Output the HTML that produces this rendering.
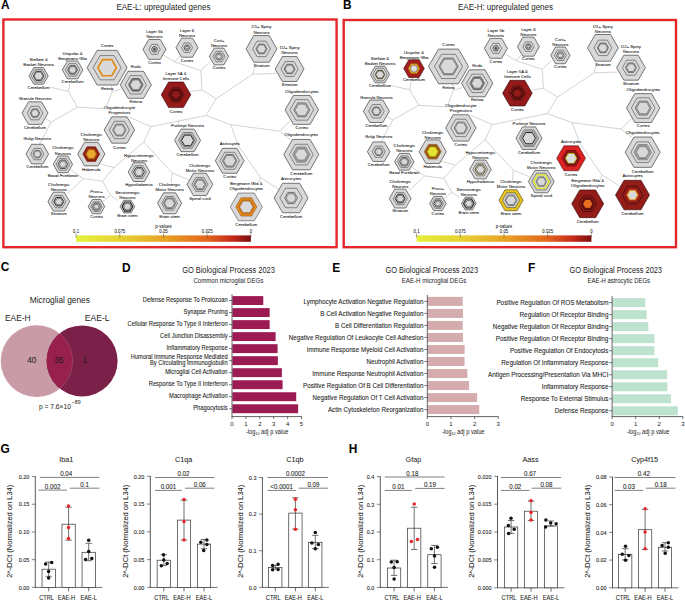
<!DOCTYPE html>
<html><head><meta charset="utf-8"><style>html,body{margin:0;padding:0;background:#fff;}svg{display:block;font-family:"Liberation Sans",sans-serif;}</style></head>
<body>
<svg width="685" height="601" viewBox="0 0 685 601" font-family="Liberation Sans, sans-serif">
<defs><linearGradient id="cbg" x1="0" x2="1" y1="0" y2="0">
<stop offset="0" stop-color="#e4f03a"/><stop offset="0.25" stop-color="#e6d232"/><stop offset="0.5" stop-color="#e8a424"/>
<stop offset="0.75" stop-color="#e2661e"/><stop offset="0.9" stop-color="#c4281a"/><stop offset="1" stop-color="#7a0e10"/></linearGradient></defs>
<rect width="685" height="601" fill="#fff"/>
<text x="0.90" y="8.80" font-size="11.9" text-anchor="start" font-weight="bold" fill="#000">A</text>
<text x="343.00" y="8.90" font-size="11.9" text-anchor="start" font-weight="bold" fill="#000">B</text>
<text x="0.80" y="271.30" font-size="11.9" text-anchor="start" font-weight="bold" fill="#000">C</text>
<text x="122.00" y="271.70" font-size="11.9" text-anchor="start" font-weight="bold" fill="#000">D</text>
<text x="332.30" y="271.70" font-size="11.9" text-anchor="start" font-weight="bold" fill="#000">E</text>
<text x="528.00" y="271.70" font-size="11.9" text-anchor="start" font-weight="bold" fill="#000">F</text>
<text x="0.60" y="452.70" font-size="11.9" text-anchor="start" font-weight="bold" fill="#000">G</text>
<text x="348.80" y="452.70" font-size="11.9" text-anchor="start" font-weight="bold" fill="#000">H</text>
<text x="163.40" y="10.20" font-size="8.4" text-anchor="middle" fill="#222" textLength="94.00" lengthAdjust="spacingAndGlyphs">EAE-L: upregulated genes</text>
<text x="505.50" y="10.20" font-size="8.4" text-anchor="middle" fill="#222" textLength="95.00" lengthAdjust="spacingAndGlyphs">EAE-H: upregulated genes</text>
<rect x="3.4" y="19.5" width="333.2" height="227.7" fill="none" stroke="#e5262a" stroke-width="2.4"/>
<rect x="343.7" y="20" width="332.3" height="227.2" fill="none" stroke="#e5262a" stroke-width="2.4"/>
<g stroke="#c4c4c4" stroke-width="0.75" fill="none">
<line x1="50.00" y1="87.20" x2="68.40" y2="91.40"/>
<line x1="69.70" y1="83.60" x2="68.40" y2="91.40"/>
<line x1="68.40" y1="91.40" x2="77.40" y2="107.10"/>
<line x1="77.40" y1="107.10" x2="51.30" y2="122.00"/>
<line x1="51.30" y1="122.00" x2="45.90" y2="118.60"/>
<line x1="51.30" y1="122.00" x2="39.30" y2="144.60"/>
<line x1="77.40" y1="107.10" x2="104.00" y2="108.60"/>
<line x1="112.10" y1="91.80" x2="111.00" y2="85.60"/>
<line x1="112.10" y1="91.80" x2="120.80" y2="89.20"/>
<line x1="112.10" y1="91.80" x2="106.50" y2="106.00"/>
<line x1="128.80" y1="116.90" x2="150.90" y2="126.60"/>
<line x1="150.90" y1="126.60" x2="206.00" y2="115.50"/>
<line x1="178.00" y1="120.20" x2="179.00" y2="123.00"/>
<line x1="150.90" y1="126.60" x2="143.70" y2="142.00"/>
<line x1="143.70" y1="142.00" x2="114.00" y2="167.60"/>
<line x1="114.00" y1="167.60" x2="100.00" y2="163.90"/>
<line x1="114.00" y1="167.60" x2="102.50" y2="181.20"/>
<line x1="102.50" y1="181.20" x2="83.50" y2="178.60"/>
<line x1="83.50" y1="178.60" x2="70.70" y2="169.70"/>
<line x1="83.50" y1="178.60" x2="67.20" y2="193.70"/>
<line x1="102.50" y1="181.20" x2="110.60" y2="195.30"/>
<line x1="110.60" y1="195.30" x2="102.90" y2="201.40"/>
<line x1="110.60" y1="195.30" x2="118.00" y2="200.50"/>
<line x1="143.70" y1="142.00" x2="172.00" y2="172.80"/>
<line x1="172.00" y1="172.80" x2="171.10" y2="183.00"/>
<line x1="172.00" y1="172.80" x2="188.60" y2="179.80"/>
<line x1="206.00" y1="115.50" x2="216.20" y2="98.70"/>
<line x1="216.20" y1="98.70" x2="202.00" y2="89.90"/>
<line x1="202.00" y1="89.90" x2="190.60" y2="91.50"/>
<line x1="202.00" y1="89.90" x2="200.80" y2="70.50"/>
<line x1="200.80" y1="70.50" x2="209.60" y2="62.20"/>
<line x1="200.80" y1="70.50" x2="174.60" y2="61.90"/>
<line x1="174.60" y1="61.90" x2="163.30" y2="54.90"/>
<line x1="174.60" y1="61.90" x2="180.00" y2="56.00"/>
<line x1="216.20" y1="98.70" x2="252.70" y2="74.20"/>
<line x1="252.70" y1="74.20" x2="254.90" y2="66.60"/>
<line x1="252.70" y1="74.20" x2="276.00" y2="73.40"/>
<line x1="206.00" y1="115.50" x2="230.70" y2="124.60"/>
<line x1="230.70" y1="124.60" x2="279.60" y2="131.20"/>
<line x1="279.60" y1="131.20" x2="290.00" y2="121.00"/>
<line x1="279.60" y1="131.20" x2="290.80" y2="140.00"/>
<line x1="230.70" y1="124.60" x2="238.70" y2="146.30"/>
<line x1="238.70" y1="146.30" x2="260.60" y2="177.70"/>
<line x1="260.60" y1="177.70" x2="258.40" y2="182.80"/>
<line x1="260.60" y1="177.70" x2="278.80" y2="189.30"/>
</g>
<polygon points="48.20,75.90 43.40,84.21 33.80,84.21 29.00,75.90 33.80,67.59 43.40,67.59" fill="#d9d9d9" stroke="#333" stroke-width="0.65"/>
<polygon points="45.90,75.90 42.25,82.22 34.95,82.22 31.30,75.90 34.95,69.58 42.25,69.58" fill="none" stroke="#383838" stroke-width="0.55"/>
<polygon points="43.88,75.90 41.24,80.47 35.96,80.47 33.32,75.90 35.96,71.33 41.24,71.33" fill="none" stroke="#333" stroke-width="0.9"/>
<polygon points="42.92,75.90 40.76,79.64 36.44,79.64 34.28,75.90 36.44,72.16 40.76,72.16" fill="none" stroke="#383838" stroke-width="0.55"/>
<text transform="translate(38.60,60.85) scale(1.000,1)" font-size="4.3" text-anchor="middle" fill="#1a1a1a" stroke="#1a1a1a" stroke-width="0.07">Stellate &</text>
<text transform="translate(38.60,65.90) scale(1.000,1)" font-size="4.3" text-anchor="middle" fill="#1a1a1a" stroke="#1a1a1a" stroke-width="0.07">Basket Neurons</text>
<text transform="translate(38.60,88.60) scale(1.000,1)" font-size="4.3" text-anchor="middle" fill="#1a1a1a" stroke="#1a1a1a" stroke-width="0.07">Cerebellum</text>
<polygon points="82.90,69.90 77.75,78.82 67.45,78.82 62.30,69.90 67.45,60.98 77.75,60.98" fill="#d9d9d9" stroke="#333" stroke-width="0.65"/>
<polygon points="79.81,69.90 76.20,76.14 68.99,76.14 65.39,69.90 68.99,63.66 76.20,63.66" fill="none" stroke="#383838" stroke-width="0.55"/>
<polygon points="77.44,69.90 75.02,74.09 70.18,74.09 67.76,69.90 70.18,65.71 75.02,65.71" fill="none" stroke="#333" stroke-width="0.9"/>
<polygon points="76.31,69.90 74.45,73.11 70.75,73.11 68.89,69.90 70.75,66.69 74.45,66.69" fill="none" stroke="#383838" stroke-width="0.55"/>
<text transform="translate(72.60,54.85) scale(1.000,1)" font-size="4.3" text-anchor="middle" fill="#1a1a1a" stroke="#1a1a1a" stroke-width="0.07">Unipolar &</text>
<text transform="translate(72.60,59.90) scale(1.000,1)" font-size="4.3" text-anchor="middle" fill="#1a1a1a" stroke="#1a1a1a" stroke-width="0.07">Bergmann Glia</text>
<text transform="translate(72.60,82.90) scale(1.000,1)" font-size="4.3" text-anchor="middle" fill="#1a1a1a" stroke="#1a1a1a" stroke-width="0.07">Cerebellum</text>
<polygon points="127.10,67.70 117.10,85.02 97.10,85.02 87.10,67.70 97.10,50.38 117.10,50.38" fill="#d9d9d9" stroke="#333" stroke-width="0.65"/>
<polygon points="121.10,67.70 114.10,79.82 100.10,79.82 93.10,67.70 100.10,55.58 114.10,55.58" fill="none" stroke="#383838" stroke-width="0.55"/>
<polygon points="116.40,67.70 111.75,75.75 102.45,75.75 97.80,67.70 102.45,59.65 111.75,59.65" fill="#d9d9d9" stroke="#e08c14" stroke-width="1.7"/>
<text transform="translate(107.10,47.30) scale(1.000,1)" font-size="4.3" text-anchor="middle" fill="#1a1a1a" stroke="#1a1a1a" stroke-width="0.07">Cones</text>
<text transform="translate(107.10,90.40) scale(1.000,1)" font-size="4.3" text-anchor="middle" fill="#1a1a1a" stroke="#1a1a1a" stroke-width="0.07">Retina</text>
<polygon points="151.40,84.80 143.60,98.31 128.00,98.31 120.20,84.80 128.00,71.29 143.60,71.29" fill="#d9d9d9" stroke="#333" stroke-width="0.65"/>
<polygon points="146.41,84.80 141.10,93.99 130.50,93.99 125.19,84.80 130.50,75.61 141.10,75.61" fill="none" stroke="#383838" stroke-width="0.55"/>
<polygon points="143.13,84.80 139.47,91.15 132.13,91.15 128.47,84.80 132.13,78.45 139.47,78.45" fill="none" stroke="#444" stroke-width="0.7"/>
<polygon points="142.35,84.80 139.08,90.47 132.52,90.47 129.25,84.80 132.52,79.13 139.08,79.13" fill="none" stroke="#444" stroke-width="0.7"/>
<polygon points="141.42,84.80 138.61,89.66 132.99,89.66 130.18,84.80 132.99,79.94 138.61,79.94" fill="none" stroke="#383838" stroke-width="0.55"/>
<text transform="translate(135.80,68.20) scale(1.000,1)" font-size="4.3" text-anchor="middle" fill="#1a1a1a" stroke="#1a1a1a" stroke-width="0.07">Rods</text>
<text transform="translate(135.80,103.20) scale(1.000,1)" font-size="4.3" text-anchor="middle" fill="#1a1a1a" stroke="#1a1a1a" stroke-width="0.07">Retina</text>
<polygon points="166.00,49.40 160.25,59.36 148.75,59.36 143.00,49.40 148.75,39.44 160.25,39.44" fill="#d9d9d9" stroke="#333" stroke-width="0.65"/>
<polygon points="160.25,49.40 157.38,54.38 151.62,54.38 148.75,49.40 151.62,44.42 157.38,44.42" fill="none" stroke="#383838" stroke-width="0.55"/>
<polygon points="157.49,49.40 156.00,51.99 153.00,51.99 151.51,49.40 153.00,46.81 156.00,46.81" fill="none" stroke="#333" stroke-width="0.8"/>
<polygon points="155.88,49.40 155.19,50.60 153.81,50.60 153.12,49.40 153.81,48.20 155.19,48.20" fill="#555" stroke="#333" stroke-width="0.5"/>
<text transform="translate(154.50,32.65) scale(1.000,1)" font-size="4.3" text-anchor="middle" fill="#1a1a1a" stroke="#1a1a1a" stroke-width="0.07">Layer 5b</text>
<text transform="translate(154.50,37.70) scale(1.000,1)" font-size="4.3" text-anchor="middle" fill="#1a1a1a" stroke="#1a1a1a" stroke-width="0.07">Neurons</text>
<text transform="translate(154.50,64.00) scale(1.000,1)" font-size="4.3" text-anchor="middle" fill="#1a1a1a" stroke="#1a1a1a" stroke-width="0.07">Cortex</text>
<polygon points="198.00,47.70 192.50,57.23 181.50,57.23 176.00,47.70 181.50,38.17 192.50,38.17" fill="#d9d9d9" stroke="#333" stroke-width="0.65"/>
<polygon points="192.50,47.70 189.75,52.46 184.25,52.46 181.50,47.70 184.25,42.94 189.75,42.94" fill="none" stroke="#383838" stroke-width="0.55"/>
<polygon points="189.97,47.70 188.49,50.27 185.51,50.27 184.03,47.70 185.51,45.13 188.49,45.13" fill="none" stroke="#333" stroke-width="0.8"/>
<polygon points="188.54,47.70 187.77,49.03 186.23,49.03 185.46,47.70 186.23,46.37 187.77,46.37" fill="none" stroke="#333" stroke-width="0.6"/>
<text transform="translate(187.00,31.95) scale(1.000,1)" font-size="4.3" text-anchor="middle" fill="#1a1a1a" stroke="#1a1a1a" stroke-width="0.07">Layer 6</text>
<text transform="translate(187.00,37.00) scale(1.000,1)" font-size="4.3" text-anchor="middle" fill="#1a1a1a" stroke="#1a1a1a" stroke-width="0.07">Neurons</text>
<text transform="translate(187.00,61.60) scale(1.000,1)" font-size="4.3" text-anchor="middle" fill="#1a1a1a" stroke="#1a1a1a" stroke-width="0.07">Cortex</text>
<polygon points="228.65,56.50 223.82,64.86 214.18,64.86 209.35,56.50 214.17,48.14 223.82,48.14" fill="#d9d9d9" stroke="#333" stroke-width="0.65"/>
<polygon points="224.98,56.50 221.99,61.68 216.01,61.68 213.02,56.50 216.01,51.32 221.99,51.32" fill="none" stroke="#383838" stroke-width="0.55"/>
<polygon points="222.86,56.50 220.93,59.84 217.07,59.84 215.14,56.50 217.07,53.16 220.93,53.16" fill="none" stroke="#333" stroke-width="0.7"/>
<polygon points="221.41,56.50 220.21,58.59 217.79,58.59 216.59,56.50 217.79,54.41 220.21,54.41" fill="none" stroke="#444" stroke-width="0.6"/>
<text transform="translate(219.00,41.95) scale(1.000,1)" font-size="4.3" text-anchor="middle" fill="#1a1a1a" stroke="#1a1a1a" stroke-width="0.07">Cort+</text>
<text transform="translate(219.00,47.00) scale(1.000,1)" font-size="4.3" text-anchor="middle" fill="#1a1a1a" stroke="#1a1a1a" stroke-width="0.07">Neurons</text>
<text transform="translate(219.00,68.90) scale(1.000,1)" font-size="4.3" text-anchor="middle" fill="#1a1a1a" stroke="#1a1a1a" stroke-width="0.07">Cortex</text>
<polygon points="190.80,94.80 183.40,107.62 168.60,107.62 161.20,94.80 168.60,81.98 183.40,81.98" fill="#951b1b" stroke="#2a0606" stroke-width="0.6"/>
<polygon points="183.99,94.80 180.00,101.72 172.00,101.72 168.01,94.80 172.00,87.88 180.00,87.88" fill="none" stroke="#2a0606" stroke-width="0.6"/>
<polygon points="181.92,94.80 178.96,99.93 173.04,99.93 170.08,94.80 173.04,89.67 178.96,89.67" fill="none" stroke="#2a0606" stroke-width="1.0"/>
<polygon points="180.44,94.80 178.22,98.65 173.78,98.65 171.56,94.80 173.78,90.95 178.22,90.95" fill="none" stroke="#2a0606" stroke-width="0.6"/>
<text transform="translate(176.00,74.55) scale(1.000,1)" font-size="4.3" text-anchor="middle" fill="#1a1a1a" stroke="#1a1a1a" stroke-width="0.07">Layer 5A &</text>
<text transform="translate(176.00,79.60) scale(1.000,1)" font-size="4.3" text-anchor="middle" fill="#1a1a1a" stroke="#1a1a1a" stroke-width="0.07">Immune Cells</text>
<text transform="translate(176.00,112.70) scale(1.000,1)" font-size="4.3" text-anchor="middle" fill="#1a1a1a" stroke="#1a1a1a" stroke-width="0.07">Cortex</text>
<polygon points="276.90,48.90 269.20,62.24 253.80,62.24 246.10,48.90 253.80,35.56 269.20,35.56" fill="#d9d9d9" stroke="#333" stroke-width="0.65"/>
<polygon points="270.43,48.90 265.97,56.64 257.03,56.64 252.57,48.90 257.03,41.16 265.97,41.16" fill="none" stroke="#383838" stroke-width="0.55"/>
<polygon points="267.04,48.90 264.27,53.70 258.73,53.70 255.96,48.90 258.73,44.10 264.27,44.10" fill="none" stroke="#444" stroke-width="0.7"/>
<polygon points="266.12,48.90 263.81,52.90 259.19,52.90 256.88,48.90 259.19,44.90 263.81,44.90" fill="none" stroke="#444" stroke-width="0.6"/>
<text transform="translate(261.50,28.45) scale(1.000,1)" font-size="4.3" text-anchor="middle" fill="#1a1a1a" stroke="#1a1a1a" stroke-width="0.07">D1+ Spiny</text>
<text transform="translate(261.50,33.50) scale(1.000,1)" font-size="4.3" text-anchor="middle" fill="#1a1a1a" stroke="#1a1a1a" stroke-width="0.07">Neurons</text>
<text transform="translate(261.50,67.20) scale(1.000,1)" font-size="4.3" text-anchor="middle" fill="#1a1a1a" stroke="#1a1a1a" stroke-width="0.07">Striatum</text>
<polygon points="304.00,69.00 296.80,81.47 282.40,81.47 275.20,69.00 282.40,56.53 296.80,56.53" fill="#d9d9d9" stroke="#333" stroke-width="0.65"/>
<polygon points="298.24,69.00 293.92,76.48 285.28,76.48 280.96,69.00 285.28,61.52 293.92,61.52" fill="none" stroke="#383838" stroke-width="0.55"/>
<polygon points="295.07,69.00 292.34,73.74 286.86,73.74 284.13,69.00 286.86,64.26 292.34,64.26" fill="none" stroke="#444" stroke-width="0.7"/>
<polygon points="294.06,69.00 291.83,72.87 287.37,72.87 285.14,69.00 287.37,65.13 291.83,65.13" fill="none" stroke="#444" stroke-width="0.6"/>
<text transform="translate(289.60,49.25) scale(1.000,1)" font-size="4.3" text-anchor="middle" fill="#1a1a1a" stroke="#1a1a1a" stroke-width="0.07">D2+ Spiny</text>
<text transform="translate(289.60,54.30) scale(1.000,1)" font-size="4.3" text-anchor="middle" fill="#1a1a1a" stroke="#1a1a1a" stroke-width="0.07">Neurons</text>
<text transform="translate(289.60,86.30) scale(1.000,1)" font-size="4.3" text-anchor="middle" fill="#1a1a1a" stroke="#1a1a1a" stroke-width="0.07">Striatum</text>
<polygon points="318.50,109.90 310.15,124.36 293.45,124.36 285.10,109.90 293.45,95.44 310.15,95.44" fill="#d9d9d9" stroke="#333" stroke-width="0.65"/>
<polygon points="313.66,109.90 307.73,120.17 295.87,120.17 289.94,109.90 295.87,99.63 307.73,99.63" fill="none" stroke="#383838" stroke-width="0.55"/>
<polygon points="309.82,109.90 305.81,116.84 297.79,116.84 293.78,109.90 297.79,102.96 305.81,102.96" fill="none" stroke="#444" stroke-width="0.7"/>
<polygon points="308.48,109.90 305.14,115.69 298.46,115.69 295.12,109.90 298.46,104.11 305.14,104.11" fill="none" stroke="#444" stroke-width="0.6"/>
<text transform="translate(301.80,92.70) scale(1.000,1)" font-size="4.3" text-anchor="middle" fill="#1a1a1a" stroke="#1a1a1a" stroke-width="0.07">Oligodendrocytes</text>
<text transform="translate(301.80,129.10) scale(1.000,1)" font-size="4.3" text-anchor="middle" fill="#1a1a1a" stroke="#1a1a1a" stroke-width="0.07">Cortex</text>
<polygon points="318.80,154.60 310.05,169.76 292.55,169.76 283.80,154.60 292.55,139.44 310.05,139.44" fill="#d9d9d9" stroke="#333" stroke-width="0.65"/>
<polygon points="313.20,154.60 307.25,164.91 295.35,164.91 289.40,154.60 295.35,144.29 307.25,144.29" fill="none" stroke="#383838" stroke-width="0.55"/>
<polygon points="310.05,154.60 305.68,162.18 296.93,162.18 292.55,154.60 296.93,147.02 305.68,147.02" fill="none" stroke="#444" stroke-width="0.6"/>
<polygon points="308.65,154.60 304.98,160.97 297.62,160.97 293.95,154.60 297.62,148.23 304.98,148.23" fill="none" stroke="#444" stroke-width="0.6"/>
<polygon points="307.60,154.60 304.45,160.06 298.15,160.06 295.00,154.60 298.15,149.14 304.45,149.14" fill="none" stroke="#444" stroke-width="0.5"/>
<text transform="translate(301.30,136.00) scale(1.000,1)" font-size="4.3" text-anchor="middle" fill="#1a1a1a" stroke="#1a1a1a" stroke-width="0.07">Oligodendrocytes</text>
<text transform="translate(301.30,175.20) scale(1.000,1)" font-size="4.3" text-anchor="middle" fill="#1a1a1a" stroke="#1a1a1a" stroke-width="0.07">Cerebellum</text>
<polygon points="48.00,113.10 41.50,124.36 28.50,124.36 22.00,113.10 28.50,101.84 41.50,101.84" fill="#d9d9d9" stroke="#333" stroke-width="0.65"/>
<polygon points="42.80,113.10 38.90,119.85 31.10,119.85 27.20,113.10 31.10,106.35 38.90,106.35" fill="none" stroke="#383838" stroke-width="0.55"/>
<polygon points="39.81,113.10 37.41,117.27 32.59,117.27 30.19,113.10 32.59,108.93 37.41,108.93" fill="none" stroke="#444" stroke-width="0.7"/>
<polygon points="38.90,113.10 36.95,116.48 33.05,116.48 31.10,113.10 33.05,109.72 36.95,109.72" fill="none" stroke="#444" stroke-width="0.6"/>
<text transform="translate(35.00,100.30) scale(1.000,1)" font-size="4.3" text-anchor="middle" fill="#1a1a1a" stroke="#1a1a1a" stroke-width="0.07">Granule Neurons</text>
<text transform="translate(35.00,129.40) scale(1.000,1)" font-size="4.3" text-anchor="middle" fill="#1a1a1a" stroke="#1a1a1a" stroke-width="0.07">Cerebellum</text>
<polygon points="134.60,130.00 127.00,143.16 111.80,143.16 104.20,130.00 111.80,116.84 127.00,116.84" fill="#d9d9d9" stroke="#333" stroke-width="0.65"/>
<polygon points="129.43,130.00 124.42,138.69 114.38,138.69 109.37,130.00 114.38,121.31 124.42,121.31" fill="none" stroke="#383838" stroke-width="0.55"/>
<polygon points="126.24,130.00 122.82,135.92 115.98,135.92 112.56,130.00 115.98,124.08 122.82,124.08" fill="none" stroke="#444" stroke-width="0.6"/>
<polygon points="125.18,130.00 122.29,135.00 116.51,135.00 113.62,130.00 116.51,125.00 122.29,125.00" fill="none" stroke="#444" stroke-width="0.6"/>
<text transform="translate(119.40,109.25) scale(1.000,1)" font-size="4.3" text-anchor="middle" fill="#1a1a1a" stroke="#1a1a1a" stroke-width="0.07">Oligodendrocyte</text>
<text transform="translate(119.40,114.30) scale(1.000,1)" font-size="4.3" text-anchor="middle" fill="#1a1a1a" stroke="#1a1a1a" stroke-width="0.07">Progenitors</text>
<text transform="translate(119.40,148.60) scale(1.000,1)" font-size="4.3" text-anchor="middle" fill="#1a1a1a" stroke="#1a1a1a" stroke-width="0.07">Cortex</text>
<polygon points="200.60,140.40 194.10,151.66 181.10,151.66 174.60,140.40 181.10,129.14 194.10,129.14" fill="#d9d9d9" stroke="#333" stroke-width="0.65"/>
<polygon points="196.70,140.40 192.15,148.28 183.05,148.28 178.50,140.40 183.05,132.52 192.15,132.52" fill="none" stroke="#383838" stroke-width="0.55"/>
<polygon points="195.01,140.40 191.31,146.82 183.90,146.82 180.19,140.40 183.89,133.98 191.31,133.98" fill="none" stroke="#444" stroke-width="0.6"/>
<polygon points="193.71,140.40 190.66,145.69 184.54,145.69 181.49,140.40 184.54,135.11 190.66,135.11" fill="none" stroke="#222" stroke-width="1.0"/>
<text transform="translate(187.60,126.80) scale(1.000,1)" font-size="4.3" text-anchor="middle" fill="#1a1a1a" stroke="#1a1a1a" stroke-width="0.07">Purkinje Neurons</text>
<text transform="translate(187.60,156.40) scale(1.000,1)" font-size="4.3" text-anchor="middle" fill="#1a1a1a" stroke="#1a1a1a" stroke-width="0.07">Cerebellum</text>
<polygon points="48.60,154.10 42.95,163.89 31.65,163.89 26.00,154.10 31.65,144.31 42.95,144.31" fill="#d9d9d9" stroke="#333" stroke-width="0.65"/>
<polygon points="43.85,154.10 40.58,159.78 34.02,159.78 30.75,154.10 34.02,148.42 40.58,148.42" fill="none" stroke="#383838" stroke-width="0.55"/>
<polygon points="41.59,154.10 39.45,157.82 35.15,157.82 33.01,154.10 35.15,150.38 39.45,150.38" fill="none" stroke="#444" stroke-width="0.7"/>
<polygon points="40.69,154.10 38.99,157.04 35.60,157.04 33.91,154.10 35.60,151.16 38.99,151.16" fill="none" stroke="#444" stroke-width="0.5"/>
<text transform="translate(37.30,140.30) scale(1.000,1)" font-size="4.3" text-anchor="middle" fill="#1a1a1a" stroke="#1a1a1a" stroke-width="0.07">Golgi Neurons</text>
<text transform="translate(37.30,168.40) scale(1.000,1)" font-size="4.3" text-anchor="middle" fill="#1a1a1a" stroke="#1a1a1a" stroke-width="0.07">Cerebellum</text>
<polygon points="104.90,154.10 98.10,165.88 84.50,165.88 77.70,154.10 84.50,142.32 98.10,142.32" fill="#d9d9d9" stroke="#333" stroke-width="0.65"/>
<polygon points="99.73,154.10 95.52,161.40 87.08,161.40 82.87,154.10 87.08,146.80 95.52,146.80" fill="#c41c17" stroke="#4a0c06" stroke-width="0.5"/>
<polygon points="98.64,154.10 94.97,160.46 87.63,160.46 83.96,154.10 87.63,147.74 94.97,147.74" fill="#a82a14" stroke="#5a1a08" stroke-width="0.5"/>
<polygon points="97.56,154.10 94.43,159.52 88.17,159.52 85.04,154.10 88.17,148.68 94.43,148.68" fill="#c85a1c" stroke="#6a2a08" stroke-width="0.5"/>
<polygon points="96.47,154.10 93.88,158.58 88.72,158.58 86.13,154.10 88.72,149.62 93.88,149.62" fill="#e0962a" stroke="#7a3a10" stroke-width="0.4"/>
<polygon points="95.65,154.10 93.48,157.87 89.12,157.87 86.95,154.10 89.12,150.33 93.48,150.33" fill="#e8aa2c" stroke="none" stroke-width="0"/>
<text transform="translate(91.30,135.75) scale(1.000,1)" font-size="4.3" text-anchor="middle" fill="#1a1a1a" stroke="#1a1a1a" stroke-width="0.07">Cholinergic</text>
<text transform="translate(91.30,140.80) scale(1.000,1)" font-size="4.3" text-anchor="middle" fill="#1a1a1a" stroke="#1a1a1a" stroke-width="0.07">Neurons</text>
<text transform="translate(91.30,171.10) scale(1.000,1)" font-size="4.3" text-anchor="middle" fill="#1a1a1a" stroke="#1a1a1a" stroke-width="0.07">Habenula</text>
<polygon points="72.60,164.30 67.75,172.70 58.05,172.70 53.20,164.30 58.05,155.90 67.75,155.90" fill="#d9d9d9" stroke="#333" stroke-width="0.65"/>
<polygon points="69.69,164.30 66.30,170.18 59.51,170.18 56.11,164.30 59.50,158.42 66.30,158.42" fill="none" stroke="#383838" stroke-width="0.55"/>
<polygon points="67.75,164.30 65.33,168.50 60.48,168.50 58.05,164.30 60.47,160.10 65.33,160.10" fill="none" stroke="#333" stroke-width="0.8"/>
<polygon points="66.39,164.30 64.65,167.32 61.15,167.32 59.41,164.30 61.15,161.28 64.65,161.28" fill="none" stroke="#383838" stroke-width="0.55"/>
<text transform="translate(62.90,149.45) scale(1.000,1)" font-size="4.3" text-anchor="middle" fill="#1a1a1a" stroke="#1a1a1a" stroke-width="0.07">Cholinergic</text>
<text transform="translate(62.90,154.50) scale(1.000,1)" font-size="4.3" text-anchor="middle" fill="#1a1a1a" stroke="#1a1a1a" stroke-width="0.07">Neurons</text>
<text transform="translate(62.90,176.80) scale(1.000,1)" font-size="4.3" text-anchor="middle" fill="#1a1a1a" stroke="#1a1a1a" stroke-width="0.07">Basal Forebrain</text>
<polygon points="149.85,172.10 144.43,181.50 133.57,181.50 128.15,172.10 133.57,162.70 144.43,162.70" fill="#d9d9d9" stroke="#333" stroke-width="0.65"/>
<polygon points="146.38,172.10 142.69,178.49 135.31,178.49 131.62,172.10 135.31,165.71 142.69,165.71" fill="none" stroke="#383838" stroke-width="0.55"/>
<polygon points="144.43,172.10 141.71,176.80 136.29,176.80 133.57,172.10 136.29,167.40 141.71,167.40" fill="none" stroke="#333" stroke-width="0.9"/>
<polygon points="143.12,172.10 141.06,175.67 136.94,175.67 134.88,172.10 136.94,168.53 141.06,168.53" fill="none" stroke="#383838" stroke-width="0.55"/>
<text transform="translate(139.00,156.65) scale(1.000,1)" font-size="4.3" text-anchor="middle" fill="#1a1a1a" stroke="#1a1a1a" stroke-width="0.07">Hypocretinergic</text>
<text transform="translate(139.00,161.70) scale(1.000,1)" font-size="4.3" text-anchor="middle" fill="#1a1a1a" stroke="#1a1a1a" stroke-width="0.07">Neurons</text>
<text transform="translate(139.00,185.80) scale(1.000,1)" font-size="4.3" text-anchor="middle" fill="#1a1a1a" stroke="#1a1a1a" stroke-width="0.07">Hypothalamus</text>
<polygon points="244.10,160.80 236.90,173.27 222.50,173.27 215.30,160.80 222.50,148.33 236.90,148.33" fill="#d9d9d9" stroke="#333" stroke-width="0.65"/>
<polygon points="239.49,160.80 234.60,169.28 224.80,169.28 219.91,160.80 224.80,152.32 234.60,152.32" fill="none" stroke="#383838" stroke-width="0.55"/>
<polygon points="236.90,160.80 233.30,167.04 226.10,167.04 222.50,160.80 226.10,154.56 233.30,154.56" fill="none" stroke="#444" stroke-width="0.7"/>
<polygon points="235.75,160.80 232.72,166.04 226.68,166.04 223.65,160.80 226.68,155.56 232.72,155.56" fill="none" stroke="#444" stroke-width="0.6"/>
<text transform="translate(229.70,145.20) scale(1.000,1)" font-size="4.3" text-anchor="middle" fill="#1a1a1a" stroke="#1a1a1a" stroke-width="0.07">Astrocytes</text>
<text transform="translate(229.70,178.30) scale(1.000,1)" font-size="4.3" text-anchor="middle" fill="#1a1a1a" stroke="#1a1a1a" stroke-width="0.07">Cortex</text>
<polygon points="212.80,184.40 206.35,195.57 193.45,195.57 187.00,184.40 193.45,173.23 206.35,173.23" fill="#d9d9d9" stroke="#333" stroke-width="0.65"/>
<polygon points="207.90,184.40 203.90,191.33 195.90,191.33 191.90,184.40 195.90,177.47 203.90,177.47" fill="none" stroke="#383838" stroke-width="0.55"/>
<polygon points="205.96,184.40 202.93,189.65 196.87,189.65 193.84,184.40 196.87,179.15 202.93,179.15" fill="none" stroke="#444" stroke-width="0.7"/>
<polygon points="204.80,184.40 202.35,188.65 197.45,188.65 195.00,184.40 197.45,180.15 202.35,180.15" fill="none" stroke="#444" stroke-width="0.6"/>
<text transform="translate(199.90,166.75) scale(1.000,1)" font-size="4.3" text-anchor="middle" fill="#1a1a1a" stroke="#1a1a1a" stroke-width="0.07">Cholinergic</text>
<text transform="translate(199.90,171.80) scale(1.000,1)" font-size="4.3" text-anchor="middle" fill="#1a1a1a" stroke="#1a1a1a" stroke-width="0.07">Motor Neurons</text>
<text transform="translate(199.90,200.00) scale(1.000,1)" font-size="4.3" text-anchor="middle" fill="#1a1a1a" stroke="#1a1a1a" stroke-width="0.07">Spinal cord</text>
<polygon points="69.70,201.60 64.25,211.04 53.35,211.04 47.90,201.60 53.35,192.16 64.25,192.16" fill="#d9d9d9" stroke="#333" stroke-width="0.65"/>
<polygon points="65.88,201.60 62.34,207.74 55.26,207.74 51.71,201.60 55.26,195.46 62.34,195.46" fill="none" stroke="#383838" stroke-width="0.55"/>
<polygon points="63.70,201.60 61.25,205.85 56.35,205.85 53.89,201.60 56.35,197.35 61.25,197.35" fill="none" stroke="#222" stroke-width="1.0"/>
<polygon points="62.29,201.60 60.54,204.62 57.06,204.62 55.31,201.60 57.06,198.58 60.54,198.58" fill="none" stroke="#383838" stroke-width="0.55"/>
<text transform="translate(58.80,185.85) scale(1.000,1)" font-size="4.3" text-anchor="middle" fill="#1a1a1a" stroke="#1a1a1a" stroke-width="0.07">Cholinergic</text>
<text transform="translate(58.80,190.90) scale(1.000,1)" font-size="4.3" text-anchor="middle" fill="#1a1a1a" stroke="#1a1a1a" stroke-width="0.07">Neurons</text>
<text transform="translate(58.80,215.30) scale(1.000,1)" font-size="4.3" text-anchor="middle" fill="#1a1a1a" stroke="#1a1a1a" stroke-width="0.07">Striatum</text>
<polygon points="104.75,206.60 100.62,213.74 92.38,213.74 88.25,206.60 92.38,199.46 100.62,199.46" fill="#d9d9d9" stroke="#333" stroke-width="0.65"/>
<polygon points="102.11,206.60 99.31,211.46 93.70,211.46 90.89,206.60 93.69,201.74 99.31,201.74" fill="none" stroke="#383838" stroke-width="0.55"/>
<polygon points="100.46,206.60 98.48,210.03 94.52,210.03 92.54,206.60 94.52,203.17 98.48,203.17" fill="none" stroke="#333" stroke-width="0.9"/>
<polygon points="98.97,206.60 97.74,208.74 95.26,208.74 94.03,206.60 95.26,204.46 97.74,204.46" fill="none" stroke="#555" stroke-width="0.6"/>
<text transform="translate(96.50,193.25) scale(1.000,1)" font-size="4.3" text-anchor="middle" fill="#1a1a1a" stroke="#1a1a1a" stroke-width="0.07">Pnoc+</text>
<text transform="translate(96.50,198.30) scale(1.000,1)" font-size="4.3" text-anchor="middle" fill="#1a1a1a" stroke="#1a1a1a" stroke-width="0.07">Neurons</text>
<text transform="translate(96.50,217.90) scale(1.000,1)" font-size="4.3" text-anchor="middle" fill="#1a1a1a" stroke="#1a1a1a" stroke-width="0.07">Cortex</text>
<polygon points="134.70,206.60 131.05,212.92 123.75,212.92 120.10,206.60 123.75,200.28 131.05,200.28" fill="#d9d9d9" stroke="#333" stroke-width="0.65"/>
<polygon points="132.66,206.60 130.03,211.15 124.77,211.15 122.14,206.60 124.77,202.05 130.03,202.05" fill="none" stroke="#222" stroke-width="1.1"/>
<polygon points="131.05,206.60 129.22,209.76 125.58,209.76 123.75,206.60 125.58,203.44 129.22,203.44" fill="#d9d9d9" stroke="#333" stroke-width="0.6"/>
<text transform="translate(127.40,194.15) scale(1.000,1)" font-size="4.3" text-anchor="middle" fill="#1a1a1a" stroke="#1a1a1a" stroke-width="0.07">Serotonergic</text>
<text transform="translate(127.40,199.20) scale(1.000,1)" font-size="4.3" text-anchor="middle" fill="#1a1a1a" stroke="#1a1a1a" stroke-width="0.07">Neurons</text>
<text transform="translate(127.40,217.10) scale(1.000,1)" font-size="4.3" text-anchor="middle" fill="#1a1a1a" stroke="#1a1a1a" stroke-width="0.07">Brain stem</text>
<polygon points="181.70,203.30 175.65,213.78 163.55,213.78 157.50,203.30 163.55,192.82 175.65,192.82" fill="#d9d9d9" stroke="#333" stroke-width="0.65"/>
<polygon points="177.47,203.30 173.53,210.11 165.67,210.11 161.73,203.30 165.67,196.49 173.53,196.49" fill="none" stroke="#383838" stroke-width="0.55"/>
<polygon points="175.65,203.30 172.62,208.54 166.57,208.54 163.55,203.30 166.57,198.06 172.62,198.06" fill="none" stroke="#444" stroke-width="0.7"/>
<polygon points="174.68,203.30 172.14,207.70 167.06,207.70 164.52,203.30 167.06,198.90 172.14,198.90" fill="none" stroke="#444" stroke-width="0.6"/>
<text transform="translate(169.60,186.25) scale(1.000,1)" font-size="4.3" text-anchor="middle" fill="#1a1a1a" stroke="#1a1a1a" stroke-width="0.07">Cholinergic</text>
<text transform="translate(169.60,191.30) scale(1.000,1)" font-size="4.3" text-anchor="middle" fill="#1a1a1a" stroke="#1a1a1a" stroke-width="0.07">Motor Neurons</text>
<text transform="translate(169.60,218.30) scale(1.000,1)" font-size="4.3" text-anchor="middle" fill="#1a1a1a" stroke="#1a1a1a" stroke-width="0.07">Brain stem</text>
<polygon points="262.30,206.90 254.30,220.76 238.30,220.76 230.30,206.90 238.30,193.04 254.30,193.04" fill="#d9d9d9" stroke="#383838" stroke-width="0.55"/>
<polygon points="256.86,206.90 251.58,216.05 241.02,216.05 235.74,206.90 241.02,197.75 251.58,197.75" fill="#e8921c" stroke="#7a3a10" stroke-width="0.5"/>
<polygon points="254.30,206.90 250.30,213.83 242.30,213.83 238.30,206.90 242.30,199.97 250.30,199.97" fill="#e8921c" stroke="#a04010" stroke-width="0.5"/>
<polygon points="253.02,206.90 249.66,212.72 242.94,212.72 239.58,206.90 242.94,201.08 249.66,201.08" fill="#d9d9d9" stroke="#7a3a10" stroke-width="0.5"/>
<text transform="translate(246.30,185.15) scale(1.000,1)" font-size="4.3" text-anchor="middle" fill="#1a1a1a" stroke="#1a1a1a" stroke-width="0.07">Bergmann Glia &</text>
<text transform="translate(246.30,190.20) scale(1.000,1)" font-size="4.3" text-anchor="middle" fill="#1a1a1a" stroke="#1a1a1a" stroke-width="0.07">Oligodendrocytes</text>
<text transform="translate(246.30,226.10) scale(1.000,1)" font-size="4.3" text-anchor="middle" fill="#1a1a1a" stroke="#1a1a1a" stroke-width="0.07">Cerebellum</text>
<polygon points="308.10,198.00 299.60,212.72 282.60,212.72 274.10,198.00 282.60,183.28 299.60,183.28" fill="#d9d9d9" stroke="#333" stroke-width="0.65"/>
<polygon points="302.32,198.00 296.71,207.72 285.49,207.72 279.88,198.00 285.49,188.28 296.71,188.28" fill="none" stroke="#383838" stroke-width="0.55"/>
<polygon points="297.56,198.00 294.33,203.59 287.87,203.59 284.64,198.00 287.87,192.41 294.33,192.41" fill="none" stroke="#444" stroke-width="0.7"/>
<polygon points="296.03,198.00 293.56,202.27 288.64,202.27 286.17,198.00 288.64,193.73 293.56,193.73" fill="none" stroke="#444" stroke-width="0.6"/>
<text transform="translate(291.10,180.00) scale(1.000,1)" font-size="4.3" text-anchor="middle" fill="#1a1a1a" stroke="#1a1a1a" stroke-width="0.07">Astrocytes</text>
<text transform="translate(291.10,218.30) scale(1.000,1)" font-size="4.3" text-anchor="middle" fill="#1a1a1a" stroke="#1a1a1a" stroke-width="0.07">Cerebellum</text>
<rect x="76.10" y="235.4" width="174.80" height="6.4" fill="url(#cbg)"/>
<line x1="76.10" y1="233.4" x2="76.10" y2="237.6" stroke="#444" stroke-width="0.5"/>
<text transform="translate(76.10,233.40) scale(0.940,1)" font-size="4.6" text-anchor="middle" fill="#1a1a1a" stroke="#1a1a1a" stroke-width="0.05">0.1</text>
<line x1="119.80" y1="233.4" x2="119.80" y2="237.6" stroke="#444" stroke-width="0.5"/>
<text transform="translate(119.80,233.40) scale(0.940,1)" font-size="4.6" text-anchor="middle" fill="#1a1a1a" stroke="#1a1a1a" stroke-width="0.05">0.075</text>
<line x1="163.50" y1="233.4" x2="163.50" y2="237.6" stroke="#444" stroke-width="0.5"/>
<text transform="translate(163.50,233.40) scale(0.940,1)" font-size="4.6" text-anchor="middle" fill="#1a1a1a" stroke="#1a1a1a" stroke-width="0.05">0.05</text>
<line x1="207.20" y1="233.4" x2="207.20" y2="237.6" stroke="#444" stroke-width="0.5"/>
<text transform="translate(207.20,233.40) scale(0.940,1)" font-size="4.6" text-anchor="middle" fill="#1a1a1a" stroke="#1a1a1a" stroke-width="0.05">0.025</text>
<line x1="250.90" y1="233.4" x2="250.90" y2="237.6" stroke="#444" stroke-width="0.5"/>
<text transform="translate(250.90,233.40) scale(0.940,1)" font-size="4.6" text-anchor="middle" fill="#1a1a1a" stroke="#1a1a1a" stroke-width="0.05">0</text>
<text transform="translate(163.50,227.80) scale(0.940,1)" font-size="4.6" text-anchor="middle" fill="#1a1a1a" stroke="#1a1a1a" stroke-width="0.05">p-values</text>
<g stroke="#c4c4c4" stroke-width="0.75" fill="none">
<line x1="391.40" y1="85.67" x2="409.80" y2="89.81"/>
<line x1="411.10" y1="82.11" x2="409.80" y2="89.81"/>
<line x1="409.80" y1="89.81" x2="418.80" y2="105.31"/>
<line x1="418.80" y1="105.31" x2="392.70" y2="120.01"/>
<line x1="392.70" y1="120.01" x2="387.30" y2="116.66"/>
<line x1="392.70" y1="120.01" x2="380.70" y2="142.32"/>
<line x1="418.80" y1="105.31" x2="445.40" y2="106.79"/>
<line x1="453.50" y1="90.21" x2="452.40" y2="84.09"/>
<line x1="453.50" y1="90.21" x2="462.20" y2="87.64"/>
<line x1="453.50" y1="90.21" x2="447.90" y2="104.22"/>
<line x1="470.20" y1="114.98" x2="492.30" y2="124.55"/>
<line x1="492.30" y1="124.55" x2="547.40" y2="113.60"/>
<line x1="519.40" y1="118.24" x2="520.40" y2="121.00"/>
<line x1="492.30" y1="124.55" x2="485.10" y2="139.75"/>
<line x1="485.10" y1="139.75" x2="455.40" y2="165.02"/>
<line x1="455.40" y1="165.02" x2="441.40" y2="161.37"/>
<line x1="455.40" y1="165.02" x2="443.90" y2="178.44"/>
<line x1="443.90" y1="178.44" x2="424.90" y2="175.88"/>
<line x1="424.90" y1="175.88" x2="412.10" y2="167.09"/>
<line x1="424.90" y1="175.88" x2="408.60" y2="190.78"/>
<line x1="443.90" y1="178.44" x2="452.00" y2="192.36"/>
<line x1="452.00" y1="192.36" x2="444.30" y2="198.38"/>
<line x1="452.00" y1="192.36" x2="459.40" y2="197.49"/>
<line x1="485.10" y1="139.75" x2="513.40" y2="170.15"/>
<line x1="513.40" y1="170.15" x2="512.50" y2="180.22"/>
<line x1="513.40" y1="170.15" x2="530.00" y2="177.06"/>
<line x1="547.40" y1="113.60" x2="557.60" y2="97.02"/>
<line x1="557.60" y1="97.02" x2="543.40" y2="88.33"/>
<line x1="543.40" y1="88.33" x2="532.00" y2="89.91"/>
<line x1="543.40" y1="88.33" x2="542.20" y2="69.18"/>
<line x1="542.20" y1="69.18" x2="551.00" y2="60.99"/>
<line x1="542.20" y1="69.18" x2="516.00" y2="60.70"/>
<line x1="516.00" y1="60.70" x2="504.70" y2="53.79"/>
<line x1="516.00" y1="60.70" x2="521.40" y2="54.87"/>
<line x1="557.60" y1="97.02" x2="594.10" y2="72.84"/>
<line x1="594.10" y1="72.84" x2="596.30" y2="65.33"/>
<line x1="594.10" y1="72.84" x2="617.40" y2="72.05"/>
<line x1="547.40" y1="113.60" x2="572.10" y2="122.58"/>
<line x1="572.10" y1="122.58" x2="621.00" y2="129.09"/>
<line x1="621.00" y1="129.09" x2="631.40" y2="119.03"/>
<line x1="621.00" y1="129.09" x2="632.20" y2="137.78"/>
<line x1="572.10" y1="122.58" x2="580.10" y2="144.00"/>
<line x1="580.10" y1="144.00" x2="602.00" y2="174.99"/>
<line x1="602.00" y1="174.99" x2="599.80" y2="180.02"/>
<line x1="602.00" y1="174.99" x2="620.20" y2="186.44"/>
</g>
<polygon points="389.60,74.51 384.80,82.83 375.20,82.83 370.40,74.51 375.20,66.20 384.80,66.20" fill="#d9d9d9" stroke="#333" stroke-width="0.65"/>
<polygon points="387.30,74.51 383.65,80.83 376.35,80.83 372.70,74.51 376.35,68.19 383.65,68.19" fill="none" stroke="#383838" stroke-width="0.55"/>
<polygon points="384.80,74.51 382.40,78.67 377.60,78.67 375.20,74.51 377.60,70.36 382.40,70.36" fill="none" stroke="#4a4010" stroke-width="0.9"/>
<polygon points="384.03,74.51 382.02,78.01 377.98,78.01 375.97,74.51 377.98,71.02 382.02,71.02" fill="none" stroke="#383838" stroke-width="0.55"/>
<text transform="translate(380.00,59.61) scale(1.000,1)" font-size="4.3" text-anchor="middle" fill="#1a1a1a" stroke="#1a1a1a" stroke-width="0.07">Stellate &</text>
<text transform="translate(380.00,64.66) scale(1.000,1)" font-size="4.3" text-anchor="middle" fill="#1a1a1a" stroke="#1a1a1a" stroke-width="0.07">Basket Neurons</text>
<text transform="translate(380.00,87.07) scale(1.000,1)" font-size="4.3" text-anchor="middle" fill="#1a1a1a" stroke="#1a1a1a" stroke-width="0.07">Cerebellum</text>
<polygon points="424.30,68.59 419.15,77.51 408.85,77.51 403.70,68.59 408.85,59.67 419.15,59.67" fill="#a51d1d" stroke="#2a0606" stroke-width="0.6"/>
<polygon points="419.97,68.59 416.99,73.76 411.01,73.76 408.03,68.59 411.01,63.42 416.99,63.42" fill="#e8a820" stroke="#6a4010" stroke-width="0.4"/>
<polygon points="417.91,68.59 415.96,71.98 412.04,71.98 410.09,68.59 412.04,65.20 415.96,65.20" fill="#c8c8c8" stroke="#555" stroke-width="0.5"/>
<polygon points="416.57,68.59 415.29,70.82 412.71,70.82 411.43,68.59 412.71,66.36 415.29,66.36" fill="#e2e2e2" stroke="none" stroke-width="0"/>
<text transform="translate(414.00,53.69) scale(1.000,1)" font-size="4.3" text-anchor="middle" fill="#1a1a1a" stroke="#1a1a1a" stroke-width="0.07">Unipolar &</text>
<text transform="translate(414.00,58.74) scale(1.000,1)" font-size="4.3" text-anchor="middle" fill="#1a1a1a" stroke="#1a1a1a" stroke-width="0.07">Bergmann Glia</text>
<text transform="translate(414.00,81.44) scale(1.000,1)" font-size="4.3" text-anchor="middle" fill="#1a1a1a" stroke="#1a1a1a" stroke-width="0.07">Cerebellum</text>
<polygon points="468.50,66.42 458.50,83.74 438.50,83.74 428.50,66.42 438.50,49.10 458.50,49.10" fill="#d9d9d9" stroke="#333" stroke-width="0.65"/>
<polygon points="462.50,66.42 455.50,78.54 441.50,78.54 434.50,66.42 441.50,54.30 455.50,54.30" fill="none" stroke="#383838" stroke-width="0.55"/>
<polygon points="458.10,66.42 453.30,74.73 443.70,74.73 438.90,66.42 443.70,58.11 453.30,58.11" fill="none" stroke="#444" stroke-width="0.7"/>
<polygon points="456.90,66.42 452.70,73.69 444.30,73.69 440.10,66.42 444.30,59.15 452.70,59.15" fill="none" stroke="#444" stroke-width="0.6"/>
<text transform="translate(448.50,46.30) scale(1.000,1)" font-size="4.3" text-anchor="middle" fill="#1a1a1a" stroke="#1a1a1a" stroke-width="0.07">Cones</text>
<text transform="translate(448.50,88.84) scale(1.000,1)" font-size="4.3" text-anchor="middle" fill="#1a1a1a" stroke="#1a1a1a" stroke-width="0.07">Retina</text>
<polygon points="492.80,83.30 485.00,96.81 469.40,96.81 461.60,83.30 469.40,69.79 485.00,69.79" fill="#d9d9d9" stroke="#333" stroke-width="0.65"/>
<polygon points="487.81,83.30 482.50,92.48 471.90,92.48 466.59,83.30 471.90,74.11 482.50,74.11" fill="none" stroke="#383838" stroke-width="0.55"/>
<polygon points="484.53,83.30 480.87,89.65 473.53,89.65 469.87,83.30 473.53,76.95 480.87,76.95" fill="none" stroke="#444" stroke-width="0.7"/>
<polygon points="483.75,83.30 480.48,88.97 473.92,88.97 470.65,83.30 473.92,77.62 480.48,77.62" fill="none" stroke="#444" stroke-width="0.7"/>
<polygon points="482.82,83.30 480.01,88.16 474.39,88.16 471.58,83.30 474.39,78.43 480.01,78.43" fill="none" stroke="#383838" stroke-width="0.55"/>
<text transform="translate(477.20,66.93) scale(1.000,1)" font-size="4.3" text-anchor="middle" fill="#1a1a1a" stroke="#1a1a1a" stroke-width="0.07">Rods</text>
<text transform="translate(477.20,101.48) scale(1.000,1)" font-size="4.3" text-anchor="middle" fill="#1a1a1a" stroke="#1a1a1a" stroke-width="0.07">Retina</text>
<polygon points="507.40,48.36 501.65,58.32 490.15,58.32 484.40,48.36 490.15,38.40 501.65,38.40" fill="#d9d9d9" stroke="#333" stroke-width="0.65"/>
<polygon points="501.65,48.36 498.77,53.34 493.02,53.34 490.15,48.36 493.02,43.38 498.77,43.38" fill="none" stroke="#383838" stroke-width="0.55"/>
<polygon points="498.89,48.36 497.39,50.95 494.40,50.95 492.91,48.36 494.40,45.77 497.39,45.77" fill="none" stroke="#333" stroke-width="0.8"/>
<polygon points="497.28,48.36 496.59,49.55 495.21,49.55 494.52,48.36 495.21,47.16 496.59,47.16" fill="#555" stroke="#333" stroke-width="0.5"/>
<text transform="translate(495.90,31.78) scale(1.000,1)" font-size="4.3" text-anchor="middle" fill="#1a1a1a" stroke="#1a1a1a" stroke-width="0.07">Layer 5b</text>
<text transform="translate(495.90,36.83) scale(1.000,1)" font-size="4.3" text-anchor="middle" fill="#1a1a1a" stroke="#1a1a1a" stroke-width="0.07">Neurons</text>
<text transform="translate(495.90,62.79) scale(1.000,1)" font-size="4.3" text-anchor="middle" fill="#1a1a1a" stroke="#1a1a1a" stroke-width="0.07">Cortex</text>
<polygon points="539.40,46.68 533.90,56.21 522.90,56.21 517.40,46.68 522.90,37.15 533.90,37.15" fill="#d9d9d9" stroke="#333" stroke-width="0.65"/>
<polygon points="533.90,46.68 531.15,51.44 525.65,51.44 522.90,46.68 525.65,41.92 531.15,41.92" fill="none" stroke="#383838" stroke-width="0.55"/>
<polygon points="531.37,46.68 529.88,49.25 526.91,49.25 525.43,46.68 526.91,44.11 529.88,44.11" fill="none" stroke="#333" stroke-width="0.8"/>
<polygon points="529.94,46.68 529.17,48.01 527.63,48.01 526.86,46.68 527.63,45.35 529.17,45.35" fill="none" stroke="#333" stroke-width="0.6"/>
<text transform="translate(528.40,31.09) scale(1.000,1)" font-size="4.3" text-anchor="middle" fill="#1a1a1a" stroke="#1a1a1a" stroke-width="0.07">Layer 6</text>
<text transform="translate(528.40,36.14) scale(1.000,1)" font-size="4.3" text-anchor="middle" fill="#1a1a1a" stroke="#1a1a1a" stroke-width="0.07">Neurons</text>
<text transform="translate(528.40,60.42) scale(1.000,1)" font-size="4.3" text-anchor="middle" fill="#1a1a1a" stroke="#1a1a1a" stroke-width="0.07">Cortex</text>
<polygon points="570.05,55.37 565.23,63.72 555.57,63.72 550.75,55.37 555.57,47.01 565.23,47.01" fill="#d9d9d9" stroke="#333" stroke-width="0.65"/>
<polygon points="566.38,55.37 563.39,60.55 557.41,60.55 554.42,55.37 557.41,50.18 563.39,50.18" fill="none" stroke="#383838" stroke-width="0.55"/>
<polygon points="564.26,55.37 562.33,58.71 558.47,58.71 556.54,55.37 558.47,52.02 562.33,52.02" fill="none" stroke="#333" stroke-width="0.7"/>
<polygon points="562.81,55.37 561.61,57.45 559.19,57.45 557.99,55.37 559.19,53.28 561.61,53.28" fill="none" stroke="#444" stroke-width="0.6"/>
<text transform="translate(560.40,40.96) scale(1.000,1)" font-size="4.3" text-anchor="middle" fill="#1a1a1a" stroke="#1a1a1a" stroke-width="0.07">Cort+</text>
<text transform="translate(560.40,46.01) scale(1.000,1)" font-size="4.3" text-anchor="middle" fill="#1a1a1a" stroke="#1a1a1a" stroke-width="0.07">Neurons</text>
<text transform="translate(560.40,67.62) scale(1.000,1)" font-size="4.3" text-anchor="middle" fill="#1a1a1a" stroke="#1a1a1a" stroke-width="0.07">Cortex</text>
<polygon points="532.20,93.17 524.80,105.98 510.00,105.98 502.60,93.17 510.00,80.35 524.80,80.35" fill="#951b1b" stroke="#2a0606" stroke-width="0.6"/>
<polygon points="525.39,93.17 521.40,100.09 513.40,100.09 509.41,93.17 513.40,86.25 521.40,86.25" fill="none" stroke="#2a0606" stroke-width="0.6"/>
<polygon points="523.32,93.17 520.36,98.29 514.44,98.29 511.48,93.17 514.44,88.04 520.36,88.04" fill="none" stroke="#2a0606" stroke-width="1.0"/>
<polygon points="521.84,93.17 519.62,97.01 515.18,97.01 512.96,93.17 515.18,89.32 519.62,89.32" fill="none" stroke="#2a0606" stroke-width="0.6"/>
<text transform="translate(517.40,73.13) scale(1.000,1)" font-size="4.3" text-anchor="middle" fill="#1a1a1a" stroke="#1a1a1a" stroke-width="0.07">Layer 5A &</text>
<text transform="translate(517.40,78.18) scale(1.000,1)" font-size="4.3" text-anchor="middle" fill="#1a1a1a" stroke="#1a1a1a" stroke-width="0.07">Immune Cells</text>
<text transform="translate(517.40,110.85) scale(1.000,1)" font-size="4.3" text-anchor="middle" fill="#1a1a1a" stroke="#1a1a1a" stroke-width="0.07">Cortex</text>
<polygon points="618.30,47.86 610.60,61.20 595.20,61.20 587.50,47.86 595.20,34.53 610.60,34.53" fill="#d9d9d9" stroke="#333" stroke-width="0.65"/>
<polygon points="611.83,47.86 607.37,55.60 598.43,55.60 593.97,47.86 598.43,40.13 607.37,40.13" fill="none" stroke="#383838" stroke-width="0.55"/>
<polygon points="608.44,47.86 605.67,52.67 600.13,52.67 597.36,47.86 600.13,43.06 605.67,43.06" fill="none" stroke="#444" stroke-width="0.7"/>
<polygon points="607.52,47.86 605.21,51.87 600.59,51.87 598.28,47.86 600.59,43.86 605.21,43.86" fill="none" stroke="#444" stroke-width="0.6"/>
<text transform="translate(602.90,27.63) scale(1.000,1)" font-size="4.3" text-anchor="middle" fill="#1a1a1a" stroke="#1a1a1a" stroke-width="0.07">D1+ Spiny</text>
<text transform="translate(602.90,32.68) scale(1.000,1)" font-size="4.3" text-anchor="middle" fill="#1a1a1a" stroke="#1a1a1a" stroke-width="0.07">Neurons</text>
<text transform="translate(602.90,65.94) scale(1.000,1)" font-size="4.3" text-anchor="middle" fill="#1a1a1a" stroke="#1a1a1a" stroke-width="0.07">Striatum</text>
<polygon points="645.40,67.70 638.20,80.17 623.80,80.17 616.60,67.70 623.80,55.23 638.20,55.23" fill="#d9d9d9" stroke="#333" stroke-width="0.65"/>
<polygon points="639.64,67.70 635.32,75.19 626.68,75.19 622.36,67.70 626.68,60.22 635.32,60.22" fill="none" stroke="#383838" stroke-width="0.55"/>
<polygon points="636.47,67.70 633.74,72.44 628.26,72.44 625.53,67.70 628.26,62.96 633.74,62.96" fill="none" stroke="#444" stroke-width="0.7"/>
<polygon points="635.46,67.70 633.23,71.57 628.77,71.57 626.54,67.70 628.77,63.84 633.23,63.84" fill="none" stroke="#444" stroke-width="0.6"/>
<text transform="translate(631.00,48.16) scale(1.000,1)" font-size="4.3" text-anchor="middle" fill="#1a1a1a" stroke="#1a1a1a" stroke-width="0.07">D2+ Spiny</text>
<text transform="translate(631.00,53.21) scale(1.000,1)" font-size="4.3" text-anchor="middle" fill="#1a1a1a" stroke="#1a1a1a" stroke-width="0.07">Neurons</text>
<text transform="translate(631.00,84.80) scale(1.000,1)" font-size="4.3" text-anchor="middle" fill="#1a1a1a" stroke="#1a1a1a" stroke-width="0.07">Striatum</text>
<polygon points="659.90,108.07 651.55,122.53 634.85,122.53 626.50,108.07 634.85,93.61 651.55,93.61" fill="#d9d9d9" stroke="#333" stroke-width="0.65"/>
<polygon points="655.06,108.07 649.13,118.34 637.27,118.34 631.34,108.07 637.27,97.80 649.13,97.80" fill="none" stroke="#383838" stroke-width="0.55"/>
<polygon points="651.22,108.07 647.21,115.01 639.19,115.01 635.18,108.07 639.19,101.13 647.21,101.13" fill="none" stroke="#444" stroke-width="0.7"/>
<polygon points="649.88,108.07 646.54,113.86 639.86,113.86 636.52,108.07 639.86,102.29 646.54,102.29" fill="none" stroke="#444" stroke-width="0.6"/>
<text transform="translate(643.20,91.11) scale(1.000,1)" font-size="4.3" text-anchor="middle" fill="#1a1a1a" stroke="#1a1a1a" stroke-width="0.07">Oligodendrocytes</text>
<text transform="translate(643.20,127.04) scale(1.000,1)" font-size="4.3" text-anchor="middle" fill="#1a1a1a" stroke="#1a1a1a" stroke-width="0.07">Cortex</text>
<polygon points="660.20,152.19 651.45,167.35 633.95,167.35 625.20,152.19 633.95,137.03 651.45,137.03" fill="#d9d9d9" stroke="#333" stroke-width="0.65"/>
<polygon points="654.60,152.19 648.65,162.50 636.75,162.50 630.80,152.19 636.75,141.88 648.65,141.88" fill="none" stroke="#383838" stroke-width="0.55"/>
<polygon points="651.45,152.19 647.08,159.77 638.33,159.77 633.95,152.19 638.33,144.61 647.08,144.61" fill="none" stroke="#444" stroke-width="0.6"/>
<polygon points="650.05,152.19 646.38,158.56 639.03,158.56 635.35,152.19 639.03,145.82 646.38,145.82" fill="none" stroke="#444" stroke-width="0.6"/>
<polygon points="649.00,152.19 645.85,157.65 639.55,157.65 636.40,152.19 639.55,146.73 645.85,146.73" fill="none" stroke="#444" stroke-width="0.5"/>
<text transform="translate(642.70,133.85) scale(1.000,1)" font-size="4.3" text-anchor="middle" fill="#1a1a1a" stroke="#1a1a1a" stroke-width="0.07">Oligodendrocytes</text>
<text transform="translate(642.70,172.54) scale(1.000,1)" font-size="4.3" text-anchor="middle" fill="#1a1a1a" stroke="#1a1a1a" stroke-width="0.07">Cerebellum</text>
<polygon points="389.40,111.23 382.90,122.49 369.90,122.49 363.40,111.23 369.90,99.97 382.90,99.97" fill="#d9d9d9" stroke="#333" stroke-width="0.65"/>
<polygon points="384.20,111.23 380.30,117.98 372.50,117.98 368.60,111.23 372.50,104.47 380.30,104.47" fill="none" stroke="#383838" stroke-width="0.55"/>
<polygon points="381.21,111.23 378.80,115.40 374.00,115.40 371.59,111.23 373.99,107.06 378.80,107.06" fill="none" stroke="#444" stroke-width="0.7"/>
<polygon points="380.30,111.23 378.35,114.61 374.45,114.61 372.50,111.23 374.45,107.85 378.35,107.85" fill="none" stroke="#444" stroke-width="0.6"/>
<text transform="translate(376.40,98.61) scale(1.000,1)" font-size="4.3" text-anchor="middle" fill="#1a1a1a" stroke="#1a1a1a" stroke-width="0.07">Granule Neurons</text>
<text transform="translate(376.40,127.34) scale(1.000,1)" font-size="4.3" text-anchor="middle" fill="#1a1a1a" stroke="#1a1a1a" stroke-width="0.07">Cerebellum</text>
<polygon points="476.00,127.91 468.40,141.07 453.20,141.07 445.60,127.91 453.20,114.75 468.40,114.75" fill="#d9d9d9" stroke="#333" stroke-width="0.65"/>
<polygon points="470.83,127.91 465.82,136.60 455.78,136.60 450.77,127.91 455.78,119.22 465.82,119.22" fill="none" stroke="#383838" stroke-width="0.55"/>
<polygon points="467.64,127.91 464.22,133.83 457.38,133.83 453.96,127.91 457.38,121.99 464.22,121.99" fill="none" stroke="#444" stroke-width="0.6"/>
<polygon points="466.58,127.91 463.69,132.91 457.91,132.91 455.02,127.91 457.91,122.91 463.69,122.91" fill="none" stroke="#444" stroke-width="0.6"/>
<text transform="translate(460.80,107.38) scale(1.000,1)" font-size="4.3" text-anchor="middle" fill="#1a1a1a" stroke="#1a1a1a" stroke-width="0.07">Oligodendrocyte</text>
<text transform="translate(460.80,112.43) scale(1.000,1)" font-size="4.3" text-anchor="middle" fill="#1a1a1a" stroke="#1a1a1a" stroke-width="0.07">Progenitors</text>
<text transform="translate(460.80,146.29) scale(1.000,1)" font-size="4.3" text-anchor="middle" fill="#1a1a1a" stroke="#1a1a1a" stroke-width="0.07">Cortex</text>
<polygon points="542.00,138.17 535.50,149.43 522.50,149.43 516.00,138.17 522.50,126.92 535.50,126.92" fill="#d9d9d9" stroke="#333" stroke-width="0.65"/>
<polygon points="538.62,138.17 533.81,146.51 524.19,146.51 519.38,138.17 524.19,129.84 533.81,129.84" fill="none" stroke="#383838" stroke-width="0.55"/>
<polygon points="537.19,138.17 533.10,145.27 524.90,145.27 520.81,138.17 524.90,131.08 533.10,131.08" fill="none" stroke="#383838" stroke-width="0.55"/>
<polygon points="535.50,138.17 532.25,143.80 525.75,143.80 522.50,138.17 525.75,132.55 532.25,132.55" fill="none" stroke="#222" stroke-width="1.0"/>
<text transform="translate(529.00,124.77) scale(1.000,1)" font-size="4.3" text-anchor="middle" fill="#1a1a1a" stroke="#1a1a1a" stroke-width="0.07">Purkinje Neurons</text>
<text transform="translate(529.00,153.98) scale(1.000,1)" font-size="4.3" text-anchor="middle" fill="#1a1a1a" stroke="#1a1a1a" stroke-width="0.07">Cerebellum</text>
<polygon points="390.00,151.70 384.35,161.48 373.05,161.48 367.40,151.70 373.05,141.91 384.35,141.91" fill="#d9d9d9" stroke="#333" stroke-width="0.65"/>
<polygon points="385.25,151.70 381.98,157.37 375.42,157.37 372.15,151.70 375.42,146.02 381.98,146.02" fill="none" stroke="#383838" stroke-width="0.55"/>
<polygon points="382.99,151.70 380.85,155.42 376.55,155.42 374.41,151.70 376.55,147.98 380.85,147.98" fill="none" stroke="#444" stroke-width="0.7"/>
<polygon points="382.09,151.70 380.39,154.63 377.00,154.63 375.31,151.70 377.00,148.76 380.39,148.76" fill="none" stroke="#444" stroke-width="0.5"/>
<text transform="translate(378.70,138.09) scale(1.000,1)" font-size="4.3" text-anchor="middle" fill="#1a1a1a" stroke="#1a1a1a" stroke-width="0.07">Golgi Neurons</text>
<text transform="translate(378.70,165.83) scale(1.000,1)" font-size="4.3" text-anchor="middle" fill="#1a1a1a" stroke="#1a1a1a" stroke-width="0.07">Cerebellum</text>
<polygon points="446.30,151.70 439.50,163.47 425.90,163.47 419.10,151.70 425.90,139.92 439.50,139.92" fill="#d9d9d9" stroke="#333" stroke-width="0.65"/>
<polygon points="441.13,151.70 436.92,159.00 428.48,159.00 424.27,151.70 428.48,144.39 436.92,144.39" fill="#d9821a" stroke="#4a2a06" stroke-width="0.5"/>
<polygon points="440.04,151.70 436.37,158.06 429.03,158.06 425.36,151.70 429.03,145.34 436.37,145.34" fill="#b87018" stroke="#6a4010" stroke-width="0.5"/>
<polygon points="438.96,151.70 435.83,157.11 429.57,157.11 426.44,151.70 429.57,146.28 435.83,146.28" fill="#d98a1a" stroke="#6a4010" stroke-width="0.5"/>
<polygon points="438.14,151.70 435.42,156.41 429.98,156.41 427.26,151.70 429.98,146.99 435.42,146.99" fill="#e3e62e" stroke="#7a6010" stroke-width="0.4"/>
<polygon points="437.32,151.70 435.01,155.70 430.39,155.70 428.08,151.70 430.39,147.69 435.01,147.69" fill="#e3e62e" stroke="none" stroke-width="0"/>
<text transform="translate(432.70,133.54) scale(1.000,1)" font-size="4.3" text-anchor="middle" fill="#1a1a1a" stroke="#1a1a1a" stroke-width="0.07">Cholinergic</text>
<text transform="translate(432.70,138.59) scale(1.000,1)" font-size="4.3" text-anchor="middle" fill="#1a1a1a" stroke="#1a1a1a" stroke-width="0.07">Neurons</text>
<text transform="translate(432.70,168.49) scale(1.000,1)" font-size="4.3" text-anchor="middle" fill="#1a1a1a" stroke="#1a1a1a" stroke-width="0.07">Habenula</text>
<polygon points="414.00,161.76 409.15,170.16 399.45,170.16 394.60,161.76 399.45,153.36 409.15,153.36" fill="#d9d9d9" stroke="#333" stroke-width="0.65"/>
<polygon points="411.09,161.76 407.69,167.64 400.90,167.64 397.51,161.76 400.90,155.88 407.69,155.88" fill="none" stroke="#383838" stroke-width="0.55"/>
<polygon points="409.15,161.76 406.72,165.96 401.87,165.96 399.45,161.76 401.87,157.56 406.72,157.56" fill="none" stroke="#333" stroke-width="0.8"/>
<polygon points="407.79,161.76 406.05,164.79 402.55,164.79 400.81,161.76 402.55,158.74 406.05,158.74" fill="none" stroke="#383838" stroke-width="0.55"/>
<text transform="translate(404.30,147.06) scale(1.000,1)" font-size="4.3" text-anchor="middle" fill="#1a1a1a" stroke="#1a1a1a" stroke-width="0.07">Cholinergic</text>
<text transform="translate(404.30,152.11) scale(1.000,1)" font-size="4.3" text-anchor="middle" fill="#1a1a1a" stroke="#1a1a1a" stroke-width="0.07">Neurons</text>
<text transform="translate(404.30,174.12) scale(1.000,1)" font-size="4.3" text-anchor="middle" fill="#1a1a1a" stroke="#1a1a1a" stroke-width="0.07">Basal Forebrain</text>
<polygon points="491.25,169.46 485.82,178.86 474.97,178.86 469.55,169.46 474.97,160.07 485.82,160.07" fill="#d9d9d9" stroke="#333" stroke-width="0.65"/>
<polygon points="487.78,169.46 484.09,175.85 476.71,175.85 473.02,169.46 476.71,163.07 484.09,163.07" fill="none" stroke="#383838" stroke-width="0.55"/>
<polygon points="485.82,169.46 483.11,174.16 477.69,174.16 474.97,169.46 477.69,164.76 483.11,164.76" fill="none" stroke="#5a4a10" stroke-width="0.9"/>
<polygon points="484.52,169.46 482.46,173.03 478.34,173.03 476.28,169.46 478.34,165.89 482.46,165.89" fill="none" stroke="#383838" stroke-width="0.55"/>
<text transform="translate(480.40,154.16) scale(1.000,1)" font-size="4.3" text-anchor="middle" fill="#1a1a1a" stroke="#1a1a1a" stroke-width="0.07">Hypocretinergic</text>
<text transform="translate(480.40,159.21) scale(1.000,1)" font-size="4.3" text-anchor="middle" fill="#1a1a1a" stroke="#1a1a1a" stroke-width="0.07">Neurons</text>
<text transform="translate(480.40,183.00) scale(1.000,1)" font-size="4.3" text-anchor="middle" fill="#1a1a1a" stroke="#1a1a1a" stroke-width="0.07">Hypothalamus</text>
<polygon points="585.50,158.31 578.30,170.78 563.90,170.78 556.70,158.31 563.90,145.84 578.30,145.84" fill="#dc2222" stroke="#3a0808" stroke-width="0.55"/>
<polygon points="580.03,158.31 575.56,166.04 566.64,166.04 562.17,158.31 566.64,150.58 575.56,150.58" fill="#b01a1a" stroke="#3a0808" stroke-width="0.6"/>
<polygon points="578.30,158.31 574.70,164.54 567.50,164.54 563.90,158.31 567.50,152.07 574.70,152.07" fill="none" stroke="#3a0808" stroke-width="0.5"/>
<polygon points="577.15,158.31 574.12,163.55 568.08,163.55 565.05,158.31 568.08,153.07 574.12,153.07" fill="#d0d830" stroke="#3a3a08" stroke-width="0.4"/>
<polygon points="576.14,158.31 573.62,162.67 568.58,162.67 566.06,158.31 568.58,153.94 573.62,153.94" fill="#dcdcdc" stroke="none" stroke-width="0"/>
<text transform="translate(571.10,142.93) scale(1.000,1)" font-size="4.3" text-anchor="middle" fill="#1a1a1a" stroke="#1a1a1a" stroke-width="0.07">Astrocytes</text>
<text transform="translate(571.10,175.60) scale(1.000,1)" font-size="4.3" text-anchor="middle" fill="#1a1a1a" stroke="#1a1a1a" stroke-width="0.07">Cortex</text>
<polygon points="554.20,181.60 547.75,192.77 534.85,192.77 528.40,181.60 534.85,170.43 547.75,170.43" fill="#d9d9d9" stroke="#333" stroke-width="0.65"/>
<polygon points="550.97,181.60 546.14,189.98 536.46,189.98 531.62,181.60 536.46,173.22 546.14,173.22" fill="none" stroke="#383838" stroke-width="0.55"/>
<polygon points="549.04,181.60 545.17,188.31 537.43,188.31 533.56,181.60 537.43,174.90 545.17,174.90" fill="#d9d9d9" stroke="#dde21c" stroke-width="1.3"/>
<polygon points="546.72,181.60 544.01,186.29 538.59,186.29 535.88,181.60 538.59,176.91 544.01,176.91" fill="none" stroke="#444" stroke-width="0.6"/>
<polygon points="545.81,181.60 543.56,185.51 539.04,185.51 536.78,181.60 539.04,177.69 543.56,177.69" fill="none" stroke="#444" stroke-width="0.5"/>
<text transform="translate(541.30,164.13) scale(1.000,1)" font-size="4.3" text-anchor="middle" fill="#1a1a1a" stroke="#1a1a1a" stroke-width="0.07">Cholinergic</text>
<text transform="translate(541.30,169.18) scale(1.000,1)" font-size="4.3" text-anchor="middle" fill="#1a1a1a" stroke="#1a1a1a" stroke-width="0.07">Motor Neurons</text>
<text transform="translate(541.30,197.02) scale(1.000,1)" font-size="4.3" text-anchor="middle" fill="#1a1a1a" stroke="#1a1a1a" stroke-width="0.07">Spinal cord</text>
<polygon points="411.10,198.58 405.65,208.02 394.75,208.02 389.30,198.58 394.75,189.14 405.65,189.14" fill="#d9d9d9" stroke="#333" stroke-width="0.65"/>
<polygon points="407.28,198.58 403.74,204.71 396.66,204.71 393.12,198.58 396.66,192.44 403.74,192.44" fill="none" stroke="#383838" stroke-width="0.55"/>
<polygon points="405.10,198.58 402.65,202.83 397.75,202.83 395.30,198.58 397.75,194.33 402.65,194.33" fill="none" stroke="#222" stroke-width="1.0"/>
<polygon points="403.69,198.58 401.94,201.60 398.46,201.60 396.71,198.58 398.46,195.56 401.94,195.56" fill="none" stroke="#383838" stroke-width="0.55"/>
<text transform="translate(400.20,182.99) scale(1.000,1)" font-size="4.3" text-anchor="middle" fill="#1a1a1a" stroke="#1a1a1a" stroke-width="0.07">Cholinergic</text>
<text transform="translate(400.20,188.04) scale(1.000,1)" font-size="4.3" text-anchor="middle" fill="#1a1a1a" stroke="#1a1a1a" stroke-width="0.07">Neurons</text>
<text transform="translate(400.20,212.12) scale(1.000,1)" font-size="4.3" text-anchor="middle" fill="#1a1a1a" stroke="#1a1a1a" stroke-width="0.07">Striatum</text>
<polygon points="446.15,203.51 442.02,210.66 433.77,210.66 429.65,203.51 433.77,196.37 442.02,196.37" fill="#d9d9d9" stroke="#333" stroke-width="0.65"/>
<polygon points="443.51,203.51 440.70,208.37 435.09,208.37 432.29,203.51 435.09,198.66 440.70,198.66" fill="none" stroke="#383838" stroke-width="0.55"/>
<polygon points="441.86,203.51 439.88,206.94 435.92,206.94 433.94,203.51 435.92,200.08 439.88,200.08" fill="none" stroke="#333" stroke-width="0.9"/>
<polygon points="440.38,203.51 439.14,205.66 436.66,205.66 435.42,203.51 436.66,201.37 439.14,201.37" fill="none" stroke="#555" stroke-width="0.6"/>
<text transform="translate(437.90,190.29) scale(1.000,1)" font-size="4.3" text-anchor="middle" fill="#1a1a1a" stroke="#1a1a1a" stroke-width="0.07">Pnoc+</text>
<text transform="translate(437.90,195.34) scale(1.000,1)" font-size="4.3" text-anchor="middle" fill="#1a1a1a" stroke="#1a1a1a" stroke-width="0.07">Neurons</text>
<text transform="translate(437.90,214.69) scale(1.000,1)" font-size="4.3" text-anchor="middle" fill="#1a1a1a" stroke="#1a1a1a" stroke-width="0.07">Cortex</text>
<polygon points="476.10,203.51 472.45,209.84 465.15,209.84 461.50,203.51 465.15,197.19 472.45,197.19" fill="#d9d9d9" stroke="#333" stroke-width="0.65"/>
<polygon points="474.06,203.51 471.43,208.07 466.17,208.07 463.54,203.51 466.17,198.96 471.43,198.96" fill="none" stroke="#222" stroke-width="1.1"/>
<polygon points="472.45,203.51 470.62,206.68 466.97,206.68 465.15,203.51 466.97,200.35 470.62,200.35" fill="#d9d9d9" stroke="#333" stroke-width="0.6"/>
<text transform="translate(468.80,191.18) scale(1.000,1)" font-size="4.3" text-anchor="middle" fill="#1a1a1a" stroke="#1a1a1a" stroke-width="0.07">Serotonergic</text>
<text transform="translate(468.80,196.23) scale(1.000,1)" font-size="4.3" text-anchor="middle" fill="#1a1a1a" stroke="#1a1a1a" stroke-width="0.07">Neurons</text>
<text transform="translate(468.80,213.90) scale(1.000,1)" font-size="4.3" text-anchor="middle" fill="#1a1a1a" stroke="#1a1a1a" stroke-width="0.07">Brain stem</text>
<polygon points="523.10,200.26 517.05,210.74 504.95,210.74 498.90,200.26 504.95,189.78 517.05,189.78" fill="#e8c41e" stroke="#3a3008" stroke-width="0.55"/>
<polygon points="519.47,200.26 515.24,207.59 506.76,207.59 502.53,200.26 506.76,192.92 515.24,192.92" fill="#d9d9d9" stroke="#333" stroke-width="0.55"/>
<polygon points="517.05,200.26 514.02,205.50 507.98,205.50 504.95,200.26 507.98,195.02 514.02,195.02" fill="none" stroke="#444" stroke-width="0.6"/>
<polygon points="516.08,200.26 513.54,204.66 508.46,204.66 505.92,200.26 508.46,195.86 513.54,195.86" fill="none" stroke="#444" stroke-width="0.6"/>
<text transform="translate(511.00,183.38) scale(1.000,1)" font-size="4.3" text-anchor="middle" fill="#1a1a1a" stroke="#1a1a1a" stroke-width="0.07">Cholinergic</text>
<text transform="translate(511.00,188.43) scale(1.000,1)" font-size="4.3" text-anchor="middle" fill="#1a1a1a" stroke="#1a1a1a" stroke-width="0.07">Motor Neurons</text>
<text transform="translate(511.00,215.08) scale(1.000,1)" font-size="4.3" text-anchor="middle" fill="#1a1a1a" stroke="#1a1a1a" stroke-width="0.07">Brain stem</text>
<polygon points="603.70,203.81 595.70,217.67 579.70,217.67 571.70,203.81 579.70,189.95 595.70,189.95" fill="#941c18" stroke="#2a0606" stroke-width="0.6"/>
<polygon points="596.66,203.81 592.18,211.57 583.22,211.57 578.74,203.81 583.22,196.05 592.18,196.05" fill="none" stroke="#2a0606" stroke-width="0.6"/>
<polygon points="594.42,203.81 591.06,209.63 584.34,209.63 580.98,203.81 584.34,197.99 591.06,197.99" fill="none" stroke="#2a0606" stroke-width="0.6"/>
<polygon points="593.30,203.81 590.50,208.66 584.90,208.66 582.10,203.81 584.90,198.96 590.50,198.96" fill="none" stroke="#2a0606" stroke-width="0.6"/>
<polygon points="592.18,203.81 589.94,207.69 585.46,207.69 583.22,203.81 585.46,199.93 589.94,199.93" fill="#e8701e" stroke="none" stroke-width="0"/>
<text transform="translate(587.70,182.29) scale(1.000,1)" font-size="4.3" text-anchor="middle" fill="#1a1a1a" stroke="#1a1a1a" stroke-width="0.07">Bergmann Glia &</text>
<text transform="translate(587.70,187.34) scale(1.000,1)" font-size="4.3" text-anchor="middle" fill="#1a1a1a" stroke="#1a1a1a" stroke-width="0.07">Oligodendrocytes</text>
<text transform="translate(587.70,222.78) scale(1.000,1)" font-size="4.3" text-anchor="middle" fill="#1a1a1a" stroke="#1a1a1a" stroke-width="0.07">Cerebellum</text>
<polygon points="649.50,195.03 641.00,209.75 624.00,209.75 615.50,195.03 624.00,180.30 641.00,180.30" fill="#941c18" stroke="#2a0606" stroke-width="0.6"/>
<polygon points="642.70,195.03 637.60,203.86 627.40,203.86 622.30,195.03 627.40,186.19 637.60,186.19" fill="none" stroke="#2a0606" stroke-width="0.6"/>
<polygon points="638.62,195.03 635.56,200.33 629.44,200.33 626.38,195.03 629.44,189.73 635.56,189.73" fill="#e8901a" stroke="none" stroke-width="0"/>
<polygon points="637.26,195.03 634.88,199.15 630.12,199.15 627.74,195.03 630.12,190.90 634.88,190.90" fill="#d9d9d9" stroke="none" stroke-width="0"/>
<text transform="translate(632.50,177.28) scale(1.000,1)" font-size="4.3" text-anchor="middle" fill="#1a1a1a" stroke="#1a1a1a" stroke-width="0.07">Astrocytes</text>
<text transform="translate(632.50,215.08) scale(1.000,1)" font-size="4.3" text-anchor="middle" fill="#1a1a1a" stroke="#1a1a1a" stroke-width="0.07">Cerebellum</text>
<rect x="416.60" y="235.4" width="174.80" height="6.4" fill="url(#cbg)"/>
<line x1="416.60" y1="233.4" x2="416.60" y2="237.6" stroke="#444" stroke-width="0.5"/>
<text transform="translate(416.60,233.40) scale(0.940,1)" font-size="4.6" text-anchor="middle" fill="#1a1a1a" stroke="#1a1a1a" stroke-width="0.05">0.1</text>
<line x1="460.30" y1="233.4" x2="460.30" y2="237.6" stroke="#444" stroke-width="0.5"/>
<text transform="translate(460.30,233.40) scale(0.940,1)" font-size="4.6" text-anchor="middle" fill="#1a1a1a" stroke="#1a1a1a" stroke-width="0.05">0.075</text>
<line x1="504.00" y1="233.4" x2="504.00" y2="237.6" stroke="#444" stroke-width="0.5"/>
<text transform="translate(504.00,233.40) scale(0.940,1)" font-size="4.6" text-anchor="middle" fill="#1a1a1a" stroke="#1a1a1a" stroke-width="0.05">0.05</text>
<line x1="547.70" y1="233.4" x2="547.70" y2="237.6" stroke="#444" stroke-width="0.5"/>
<text transform="translate(547.70,233.40) scale(0.940,1)" font-size="4.6" text-anchor="middle" fill="#1a1a1a" stroke="#1a1a1a" stroke-width="0.05">0.025</text>
<line x1="591.40" y1="233.4" x2="591.40" y2="237.6" stroke="#444" stroke-width="0.5"/>
<text transform="translate(591.40,233.40) scale(0.940,1)" font-size="4.6" text-anchor="middle" fill="#1a1a1a" stroke="#1a1a1a" stroke-width="0.05">0</text>
<text transform="translate(504.00,227.80) scale(0.940,1)" font-size="4.6" text-anchor="middle" fill="#1a1a1a" stroke="#1a1a1a" stroke-width="0.05">p-values</text>
<text x="59.80" y="303.20" font-size="8.3" text-anchor="middle" fill="#1a1a1a" textLength="60.20" lengthAdjust="spacingAndGlyphs">Microglial genes</text>
<text x="17.80" y="321.30" font-size="8.3" text-anchor="middle" fill="#1a1a1a" textLength="25.50" lengthAdjust="spacingAndGlyphs">EAE-H</text>
<text x="97.20" y="321.30" font-size="8.3" text-anchor="middle" fill="#1a1a1a" textLength="24.90" lengthAdjust="spacingAndGlyphs">EAE-L</text>
<defs><clipPath id="vl"><circle cx="36.7" cy="361.1" r="35.9"/></clipPath></defs>
<circle cx="36.7" cy="361.1" r="35.9" fill="#c99ba7"/>
<circle cx="82.1" cy="360.9" r="35.5" fill="#7a2049"/>
<circle cx="82.1" cy="360.9" r="35.5" fill="#97214c" clip-path="url(#vl)"/>
<circle cx="36.7" cy="361.1" r="35.9" fill="none" stroke="#d7a9b5" stroke-width="0.4" stroke-opacity="0.6"/>
<text x="31.80" y="363.10" font-size="8.3" text-anchor="middle" fill="#1a1a1a">40</text>
<text x="58.90" y="363.10" font-size="8.3" text-anchor="middle" fill="#1a1a1a">35</text>
<text x="84.80" y="363.10" font-size="8.3" text-anchor="middle" fill="#1a1a1a">1</text>
<text x="38.90" y="408.90" font-size="6.7" text-anchor="start" fill="#1a1a1a" textLength="32.10" lengthAdjust="spacingAndGlyphs">p = 7.6×10</text>
<text x="71.60" y="404.20" font-size="5.2" text-anchor="start" fill="#1a1a1a" textLength="9.00" lengthAdjust="spacingAndGlyphs">−89</text>
<text x="228.50" y="272.70" font-size="8.5" text-anchor="middle" fill="#1a1a1a" textLength="92.60" lengthAdjust="spacingAndGlyphs">GO Biological Process 2023</text>
<text x="228.30" y="282.50" font-size="6.3" text-anchor="middle" fill="#1a1a1a" textLength="69.80" lengthAdjust="spacingAndGlyphs">Common microglial DEGs</text>
<rect x="232.40" y="296.10" width="30.86" height="8.90" fill="#9c1b53"/>
<line x1="229.00" y1="300.55" x2="232.00" y2="300.55" stroke="#222" stroke-width="0.6"/>
<text transform="translate(227.60,302.05) scale(0.840,1)" font-size="6.9" text-anchor="end" fill="#1a1a1a" stroke="#1a1a1a" stroke-width="0.08">Defense Response To Protozoan</text>
<rect x="232.40" y="308.12" width="37.25" height="8.90" fill="#9c1b53"/>
<line x1="229.00" y1="312.57" x2="232.00" y2="312.57" stroke="#222" stroke-width="0.6"/>
<text transform="translate(227.60,314.07) scale(0.840,1)" font-size="6.9" text-anchor="end" fill="#1a1a1a" stroke="#1a1a1a" stroke-width="0.08">Synapse Pruning</text>
<rect x="232.40" y="320.14" width="37.25" height="8.90" fill="#9c1b53"/>
<line x1="229.00" y1="324.59" x2="232.00" y2="324.59" stroke="#222" stroke-width="0.6"/>
<text transform="translate(227.60,326.09) scale(0.840,1)" font-size="6.9" text-anchor="end" fill="#1a1a1a" stroke="#1a1a1a" stroke-width="0.08">Cellular Response To Type II Interferon</text>
<rect x="232.40" y="332.16" width="43.23" height="8.90" fill="#9c1b53"/>
<line x1="229.00" y1="336.61" x2="232.00" y2="336.61" stroke="#222" stroke-width="0.6"/>
<text transform="translate(227.60,338.11) scale(0.840,1)" font-size="6.9" text-anchor="end" fill="#1a1a1a" stroke="#1a1a1a" stroke-width="0.08">Cell Junction Disassembly</text>
<rect x="232.40" y="344.18" width="45.18" height="8.90" fill="#9c1b53"/>
<line x1="229.00" y1="348.63" x2="232.00" y2="348.63" stroke="#222" stroke-width="0.6"/>
<text transform="translate(227.60,350.13) scale(0.840,1)" font-size="6.9" text-anchor="end" fill="#1a1a1a" stroke="#1a1a1a" stroke-width="0.08">Inflammatory Response</text>
<rect x="232.40" y="356.20" width="45.45" height="8.90" fill="#9c1b53"/>
<line x1="229.00" y1="360.65" x2="232.00" y2="360.65" stroke="#222" stroke-width="0.6"/>
<text transform="translate(227.60,358.90) scale(0.900,1)" font-size="6.4" text-anchor="end" fill="#1a1a1a" stroke="#1a1a1a" stroke-width="0.08">Humoral Immune Response Mediated</text>
<text transform="translate(227.60,364.80) scale(0.900,1)" font-size="6.4" text-anchor="end" fill="#1a1a1a" stroke="#1a1a1a" stroke-width="0.08">By Circulating Immunoglobulin</text>
<rect x="232.40" y="368.22" width="49.48" height="8.90" fill="#9c1b53"/>
<line x1="229.00" y1="372.67" x2="232.00" y2="372.67" stroke="#222" stroke-width="0.6"/>
<text transform="translate(227.60,374.17) scale(0.840,1)" font-size="6.9" text-anchor="end" fill="#1a1a1a" stroke="#1a1a1a" stroke-width="0.08">Microglial Cell Activation</text>
<rect x="232.40" y="380.24" width="50.18" height="8.90" fill="#9c1b53"/>
<line x1="229.00" y1="384.69" x2="232.00" y2="384.69" stroke="#222" stroke-width="0.6"/>
<text transform="translate(227.60,386.19) scale(0.840,1)" font-size="6.9" text-anchor="end" fill="#1a1a1a" stroke="#1a1a1a" stroke-width="0.08">Response To Type II Interferon</text>
<rect x="232.40" y="392.26" width="63.80" height="8.90" fill="#9c1b53"/>
<line x1="229.00" y1="396.71" x2="232.00" y2="396.71" stroke="#222" stroke-width="0.6"/>
<text transform="translate(227.60,398.21) scale(0.840,1)" font-size="6.9" text-anchor="end" fill="#1a1a1a" stroke="#1a1a1a" stroke-width="0.08">Macrophage Activation</text>
<rect x="232.40" y="404.28" width="65.75" height="8.90" fill="#9c1b53"/>
<line x1="229.00" y1="408.73" x2="232.00" y2="408.73" stroke="#222" stroke-width="0.6"/>
<text transform="translate(227.60,410.23) scale(0.840,1)" font-size="6.9" text-anchor="end" fill="#1a1a1a" stroke="#1a1a1a" stroke-width="0.08">Phagocytosis</text>
<line x1="232.00" y1="294.10" x2="232.00" y2="416.6" stroke="#222" stroke-width="0.7"/>
<line x1="231.65" y1="416.6" x2="301.85" y2="416.6" stroke="#222" stroke-width="0.7"/>
<line x1="232.00" y1="416.6" x2="232.00" y2="419.2" stroke="#222" stroke-width="0.6"/>
<text x="232.00" y="425.90" font-size="6.0" text-anchor="middle" fill="#1a1a1a">0</text>
<line x1="245.90" y1="416.6" x2="245.90" y2="419.2" stroke="#222" stroke-width="0.6"/>
<text x="245.90" y="425.90" font-size="6.0" text-anchor="middle" fill="#1a1a1a">1</text>
<line x1="259.80" y1="416.6" x2="259.80" y2="419.2" stroke="#222" stroke-width="0.6"/>
<text x="259.80" y="425.90" font-size="6.0" text-anchor="middle" fill="#1a1a1a">2</text>
<line x1="273.70" y1="416.6" x2="273.70" y2="419.2" stroke="#222" stroke-width="0.6"/>
<text x="273.70" y="425.90" font-size="6.0" text-anchor="middle" fill="#1a1a1a">3</text>
<line x1="287.60" y1="416.6" x2="287.60" y2="419.2" stroke="#222" stroke-width="0.6"/>
<text x="287.60" y="425.90" font-size="6.0" text-anchor="middle" fill="#1a1a1a">4</text>
<line x1="301.50" y1="416.6" x2="301.50" y2="419.2" stroke="#222" stroke-width="0.6"/>
<text x="301.50" y="425.90" font-size="6.0" text-anchor="middle" fill="#1a1a1a">5</text>
<text transform="translate(267.20,433.6) scale(0.86,1)" font-size="6.6" text-anchor="middle" fill="#1a1a1a">-log<tspan font-size="4.3" dy="1.7">10</tspan><tspan dy="-1.7"> adj p value</tspan></text>
<text x="431.80" y="272.70" font-size="8.5" text-anchor="middle" fill="#1a1a1a" textLength="92.60" lengthAdjust="spacingAndGlyphs">GO Biological Process 2023</text>
<text x="434.00" y="282.50" font-size="6.3" text-anchor="middle" fill="#1a1a1a" textLength="64.60" lengthAdjust="spacingAndGlyphs">EAE-H microglial DEGs</text>
<rect x="427.70" y="296.90" width="35.00" height="9.00" fill="#d4acae"/>
<line x1="424.30" y1="301.40" x2="427.30" y2="301.40" stroke="#222" stroke-width="0.6"/>
<text transform="translate(423.40,303.70) scale(0.868,1)" font-size="7.2" text-anchor="end" fill="#1a1a1a" stroke="#1a1a1a" stroke-width="0.08">Lymphocyte Activation Negative Regulation</text>
<rect x="427.70" y="308.92" width="35.24" height="9.00" fill="#d4acae"/>
<line x1="424.30" y1="313.42" x2="427.30" y2="313.42" stroke="#222" stroke-width="0.6"/>
<text transform="translate(423.40,315.72) scale(0.868,1)" font-size="7.2" text-anchor="end" fill="#1a1a1a" stroke="#1a1a1a" stroke-width="0.08">B Cell Activation Negative Regulation</text>
<rect x="427.70" y="320.94" width="35.00" height="9.00" fill="#d4acae"/>
<line x1="424.30" y1="325.44" x2="427.30" y2="325.44" stroke="#222" stroke-width="0.6"/>
<text transform="translate(423.40,327.74) scale(0.868,1)" font-size="7.2" text-anchor="end" fill="#1a1a1a" stroke="#1a1a1a" stroke-width="0.08">B Cell Differentiation Regulation</text>
<rect x="427.70" y="332.96" width="35.24" height="9.00" fill="#d4acae"/>
<line x1="424.30" y1="337.46" x2="427.30" y2="337.46" stroke="#222" stroke-width="0.6"/>
<text transform="translate(423.40,339.76) scale(0.868,1)" font-size="7.2" text-anchor="end" fill="#1a1a1a" stroke="#1a1a1a" stroke-width="0.08">Negative Regulation Of Leukocyte Cell Adhesion</text>
<rect x="427.70" y="344.98" width="36.89" height="9.00" fill="#d4acae"/>
<line x1="424.30" y1="349.48" x2="427.30" y2="349.48" stroke="#222" stroke-width="0.6"/>
<text transform="translate(423.40,351.78) scale(0.868,1)" font-size="7.2" text-anchor="end" fill="#1a1a1a" stroke="#1a1a1a" stroke-width="0.08">Immune Response Myeloid Cell Activation</text>
<rect x="427.70" y="357.00" width="36.89" height="9.00" fill="#d4acae"/>
<line x1="424.30" y1="361.50" x2="427.30" y2="361.50" stroke="#222" stroke-width="0.6"/>
<text transform="translate(423.40,363.80) scale(0.868,1)" font-size="7.2" text-anchor="end" fill="#1a1a1a" stroke="#1a1a1a" stroke-width="0.08">Neutrophil Activation</text>
<rect x="427.70" y="369.02" width="39.73" height="9.00" fill="#d4acae"/>
<line x1="424.30" y1="373.52" x2="427.30" y2="373.52" stroke="#222" stroke-width="0.6"/>
<text transform="translate(423.40,375.82) scale(0.868,1)" font-size="7.2" text-anchor="end" fill="#1a1a1a" stroke="#1a1a1a" stroke-width="0.08">Immune Response Neutrophil Activation</text>
<rect x="427.70" y="381.04" width="41.39" height="9.00" fill="#d4acae"/>
<line x1="424.30" y1="385.54" x2="427.30" y2="385.54" stroke="#222" stroke-width="0.6"/>
<text transform="translate(423.40,387.84) scale(0.868,1)" font-size="7.2" text-anchor="end" fill="#1a1a1a" stroke="#1a1a1a" stroke-width="0.08">Positive Regulation Of B Cell Differentiation</text>
<rect x="427.70" y="393.06" width="49.43" height="9.00" fill="#d4acae"/>
<line x1="424.30" y1="397.56" x2="427.30" y2="397.56" stroke="#222" stroke-width="0.6"/>
<text transform="translate(423.40,399.86) scale(0.868,1)" font-size="7.2" text-anchor="end" fill="#1a1a1a" stroke="#1a1a1a" stroke-width="0.08">Negative Regulation Of T Cell Activation</text>
<rect x="427.70" y="405.08" width="51.56" height="9.00" fill="#d4acae"/>
<line x1="424.30" y1="409.58" x2="427.30" y2="409.58" stroke="#222" stroke-width="0.6"/>
<text transform="translate(423.40,411.88) scale(0.868,1)" font-size="7.2" text-anchor="end" fill="#1a1a1a" stroke="#1a1a1a" stroke-width="0.08">Actin Cytoskeleton Reorganization</text>
<line x1="427.30" y1="294.90" x2="427.30" y2="416.6" stroke="#222" stroke-width="0.7"/>
<line x1="426.95" y1="416.6" x2="498.60" y2="416.6" stroke="#222" stroke-width="0.7"/>
<line x1="427.30" y1="416.6" x2="427.30" y2="419.2" stroke="#222" stroke-width="0.6"/>
<text x="427.30" y="425.90" font-size="6.0" text-anchor="middle" fill="#1a1a1a">0</text>
<line x1="450.95" y1="416.6" x2="450.95" y2="419.2" stroke="#222" stroke-width="0.6"/>
<text x="450.95" y="425.90" font-size="6.0" text-anchor="middle" fill="#1a1a1a">1</text>
<line x1="474.60" y1="416.6" x2="474.60" y2="419.2" stroke="#222" stroke-width="0.6"/>
<text x="474.60" y="425.90" font-size="6.0" text-anchor="middle" fill="#1a1a1a">2</text>
<line x1="498.25" y1="416.6" x2="498.25" y2="419.2" stroke="#222" stroke-width="0.6"/>
<text x="498.25" y="425.90" font-size="6.0" text-anchor="middle" fill="#1a1a1a">3</text>
<text transform="translate(463.20,433.6) scale(0.86,1)" font-size="6.6" text-anchor="middle" fill="#1a1a1a">-log<tspan font-size="4.3" dy="1.7">10</tspan><tspan dy="-1.7"> adj p value</tspan></text>
<text x="615.70" y="272.70" font-size="8.5" text-anchor="middle" fill="#1a1a1a" textLength="92.60" lengthAdjust="spacingAndGlyphs">GO Biological Process 2023</text>
<text x="618.80" y="282.50" font-size="6.3" text-anchor="middle" fill="#1a1a1a" textLength="62.50" lengthAdjust="spacingAndGlyphs">EAE-H astrocytic DEGs</text>
<rect x="612.50" y="298.10" width="32.76" height="9.00" fill="#bde3cf"/>
<line x1="609.10" y1="302.60" x2="612.10" y2="302.60" stroke="#222" stroke-width="0.6"/>
<text transform="translate(608.40,305.00) scale(0.879,1)" font-size="7.2" text-anchor="end" fill="#1a1a1a" stroke="#1a1a1a" stroke-width="0.08">Positive Regulation Of ROS Metabolism</text>
<rect x="612.50" y="310.12" width="34.18" height="9.00" fill="#bde3cf"/>
<line x1="609.10" y1="314.62" x2="612.10" y2="314.62" stroke="#222" stroke-width="0.6"/>
<text transform="translate(608.40,317.02) scale(0.879,1)" font-size="7.2" text-anchor="end" fill="#1a1a1a" stroke="#1a1a1a" stroke-width="0.08">Regulation Of Receptor Binding</text>
<rect x="612.50" y="322.14" width="35.83" height="9.00" fill="#bde3cf"/>
<line x1="609.10" y1="326.64" x2="612.10" y2="326.64" stroke="#222" stroke-width="0.6"/>
<text transform="translate(608.40,329.04) scale(0.879,1)" font-size="7.2" text-anchor="end" fill="#1a1a1a" stroke="#1a1a1a" stroke-width="0.08">Negative Regulation Of Receptor Binding</text>
<rect x="612.50" y="334.16" width="41.95" height="9.00" fill="#bde3cf"/>
<line x1="609.10" y1="338.66" x2="612.10" y2="338.66" stroke="#222" stroke-width="0.6"/>
<text transform="translate(608.40,341.06) scale(0.879,1)" font-size="7.2" text-anchor="end" fill="#1a1a1a" stroke="#1a1a1a" stroke-width="0.08">Positive Regulation Of Receptor Binding</text>
<rect x="612.50" y="346.18" width="41.95" height="9.00" fill="#bde3cf"/>
<line x1="609.10" y1="350.68" x2="612.10" y2="350.68" stroke="#222" stroke-width="0.6"/>
<text transform="translate(608.40,353.08) scale(0.879,1)" font-size="7.2" text-anchor="end" fill="#1a1a1a" stroke="#1a1a1a" stroke-width="0.08">Positive Regulation Of Endocytosis</text>
<rect x="612.50" y="358.20" width="45.73" height="9.00" fill="#bde3cf"/>
<line x1="609.10" y1="362.70" x2="612.10" y2="362.70" stroke="#222" stroke-width="0.6"/>
<text transform="translate(608.40,365.10) scale(0.879,1)" font-size="7.2" text-anchor="end" fill="#1a1a1a" stroke="#1a1a1a" stroke-width="0.08">Regulation Of Inflammatory Response</text>
<rect x="612.50" y="370.22" width="54.68" height="9.00" fill="#bde3cf"/>
<line x1="609.10" y1="374.72" x2="612.10" y2="374.72" stroke="#222" stroke-width="0.6"/>
<text transform="translate(608.40,377.12) scale(0.879,1)" font-size="7.2" text-anchor="end" fill="#1a1a1a" stroke="#1a1a1a" stroke-width="0.08">Antigen Processing/Presentation Via MHCI</text>
<rect x="612.50" y="382.24" width="54.92" height="9.00" fill="#bde3cf"/>
<line x1="609.10" y1="386.74" x2="612.10" y2="386.74" stroke="#222" stroke-width="0.6"/>
<text transform="translate(608.40,389.14) scale(0.879,1)" font-size="7.2" text-anchor="end" fill="#1a1a1a" stroke="#1a1a1a" stroke-width="0.08">Inflammatory Response</text>
<rect x="612.50" y="394.26" width="58.45" height="9.00" fill="#bde3cf"/>
<line x1="609.10" y1="398.76" x2="612.10" y2="398.76" stroke="#222" stroke-width="0.6"/>
<text transform="translate(608.40,401.16) scale(0.879,1)" font-size="7.2" text-anchor="end" fill="#1a1a1a" stroke="#1a1a1a" stroke-width="0.08">Response To External Stimulus</text>
<rect x="612.50" y="406.28" width="65.29" height="9.00" fill="#bde3cf"/>
<line x1="609.10" y1="410.78" x2="612.10" y2="410.78" stroke="#222" stroke-width="0.6"/>
<text transform="translate(608.40,413.18) scale(0.879,1)" font-size="7.2" text-anchor="end" fill="#1a1a1a" stroke="#1a1a1a" stroke-width="0.08">Defense Response</text>
<line x1="612.10" y1="296.10" x2="612.10" y2="416.6" stroke="#222" stroke-width="0.7"/>
<line x1="611.75" y1="416.6" x2="683.16" y2="416.6" stroke="#222" stroke-width="0.7"/>
<line x1="612.10" y1="416.6" x2="612.10" y2="419.2" stroke="#222" stroke-width="0.6"/>
<text x="612.10" y="425.90" font-size="6.0" text-anchor="middle" fill="#1a1a1a">0</text>
<line x1="635.67" y1="416.6" x2="635.67" y2="419.2" stroke="#222" stroke-width="0.6"/>
<text x="635.67" y="425.90" font-size="6.0" text-anchor="middle" fill="#1a1a1a">1</text>
<line x1="659.24" y1="416.6" x2="659.24" y2="419.2" stroke="#222" stroke-width="0.6"/>
<text x="659.24" y="425.90" font-size="6.0" text-anchor="middle" fill="#1a1a1a">2</text>
<line x1="682.81" y1="416.6" x2="682.81" y2="419.2" stroke="#222" stroke-width="0.6"/>
<text x="682.81" y="425.90" font-size="6.0" text-anchor="middle" fill="#1a1a1a">3</text>
<text transform="translate(648.20,433.6) scale(0.86,1)" font-size="6.6" text-anchor="middle" fill="#1a1a1a">-log<tspan font-size="4.3" dy="1.7">10</tspan><tspan dy="-1.7"> adj p value</tspan></text>
<text transform="translate(66.30,461.80) scale(0.900,1)" font-size="8.0" text-anchor="middle" fill="#1a1a1a" stroke="#1a1a1a" stroke-width="0.05">Iba1</text>
<line x1="35.30" y1="476.10" x2="35.30" y2="587.40" stroke="#3a3a3a" stroke-width="0.85"/>
<line x1="34.95" y1="587.40" x2="102.30" y2="587.40" stroke="#333" stroke-width="0.7"/>
<line x1="31.90" y1="587.40" x2="35.30" y2="587.40" stroke="#333" stroke-width="0.6"/>
<text transform="translate(29.40,589.60) scale(0.900,1)" font-size="6.1" text-anchor="end" fill="#1a1a1a" stroke="#1a1a1a" stroke-width="0.08">0.00</text>
<line x1="31.90" y1="559.67" x2="35.30" y2="559.67" stroke="#333" stroke-width="0.6"/>
<text transform="translate(29.40,561.88) scale(0.900,1)" font-size="6.1" text-anchor="end" fill="#1a1a1a" stroke="#1a1a1a" stroke-width="0.08">0.05</text>
<line x1="31.90" y1="531.95" x2="35.30" y2="531.95" stroke="#333" stroke-width="0.6"/>
<text transform="translate(29.40,534.15) scale(0.900,1)" font-size="6.1" text-anchor="end" fill="#1a1a1a" stroke="#1a1a1a" stroke-width="0.08">0.10</text>
<line x1="31.90" y1="504.23" x2="35.30" y2="504.23" stroke="#333" stroke-width="0.6"/>
<text transform="translate(29.40,506.43) scale(0.900,1)" font-size="6.1" text-anchor="end" fill="#1a1a1a" stroke="#1a1a1a" stroke-width="0.08">0.15</text>
<line x1="31.90" y1="476.50" x2="35.30" y2="476.50" stroke="#333" stroke-width="0.6"/>
<text transform="translate(29.40,478.70) scale(0.900,1)" font-size="6.1" text-anchor="end" fill="#1a1a1a" stroke="#1a1a1a" stroke-width="0.08">0.20</text>
<line x1="48.70" y1="587.40" x2="48.70" y2="591.40" stroke="#333" stroke-width="0.7"/>
<text transform="translate(46.60,599.60) scale(0.900,1)" font-size="6.3" text-anchor="middle" fill="#1a1a1a" stroke="#1a1a1a" stroke-width="0.08">CTRL</text>
<line x1="68.60" y1="587.40" x2="68.60" y2="591.40" stroke="#333" stroke-width="0.7"/>
<text transform="translate(66.50,599.60) scale(0.900,1)" font-size="6.3" text-anchor="middle" fill="#1a1a1a" stroke="#1a1a1a" stroke-width="0.08">EAE-H</text>
<line x1="88.70" y1="587.40" x2="88.70" y2="591.40" stroke="#333" stroke-width="0.7"/>
<text transform="translate(88.70,599.60) scale(0.900,1)" font-size="6.3" text-anchor="middle" fill="#1a1a1a" stroke="#1a1a1a" stroke-width="0.08">EAE-L</text>
<rect x="42.05" y="569.20" width="13.3" height="18.20" fill="#fff" stroke="#333" stroke-width="0.7"/>
<rect x="61.95" y="524.20" width="13.3" height="63.20" fill="#fff" stroke="#333" stroke-width="0.7"/>
<rect x="82.05" y="552.30" width="13.3" height="35.10" fill="#fff" stroke="#333" stroke-width="0.7"/>
<line x1="48.70" y1="562.00" x2="48.70" y2="576.30" stroke="#333" stroke-width="0.7"/>
<line x1="45.50" y1="562.00" x2="51.90" y2="562.00" stroke="#333" stroke-width="0.7"/>
<line x1="45.50" y1="576.30" x2="51.90" y2="576.30" stroke="#333" stroke-width="0.7"/>
<line x1="68.60" y1="507.20" x2="68.60" y2="540.20" stroke="#333" stroke-width="0.7"/>
<line x1="65.40" y1="507.20" x2="71.80" y2="507.20" stroke="#333" stroke-width="0.7"/>
<line x1="65.40" y1="540.20" x2="71.80" y2="540.20" stroke="#333" stroke-width="0.7"/>
<line x1="88.70" y1="543.30" x2="88.70" y2="560.70" stroke="#333" stroke-width="0.7"/>
<line x1="85.50" y1="543.30" x2="91.90" y2="543.30" stroke="#333" stroke-width="0.7"/>
<line x1="85.50" y1="560.70" x2="91.90" y2="560.70" stroke="#333" stroke-width="0.7"/>
<circle cx="45.60" cy="564.10" r="1.75" fill="#111"/>
<circle cx="51.70" cy="562.60" r="1.75" fill="#111"/>
<circle cx="48.60" cy="571.60" r="1.75" fill="#111"/>
<circle cx="48.60" cy="577.90" r="1.75" fill="#111"/>
<circle cx="68.50" cy="505.90" r="1.75" fill="#e8262a"/>
<circle cx="68.50" cy="527.60" r="1.75" fill="#e8262a"/>
<circle cx="68.50" cy="538.60" r="1.75" fill="#e8262a"/>
<circle cx="88.70" cy="540.20" r="1.75" fill="#111"/>
<circle cx="88.70" cy="551.40" r="1.75" fill="#111"/>
<circle cx="85.60" cy="559.50" r="1.75" fill="#111"/>
<circle cx="91.80" cy="558.40" r="1.75" fill="#111"/>
<line x1="39.90" y1="477.40" x2="99.40" y2="477.40" stroke="#555" stroke-width="0.75"/>
<text transform="translate(66.20,475.90) scale(0.850,1)" font-size="7.3" text-anchor="middle" fill="#1a1a1a" stroke="#1a1a1a" stroke-width="0.08">0.04</text>
<line x1="38.30" y1="490.10" x2="66.90" y2="490.10" stroke="#555" stroke-width="0.75"/>
<text transform="translate(52.60,488.60) scale(0.850,1)" font-size="7.3" text-anchor="middle" fill="#1a1a1a" stroke="#1a1a1a" stroke-width="0.08">0.002</text>
<line x1="69.90" y1="488.20" x2="99.40" y2="488.20" stroke="#555" stroke-width="0.75"/>
<text transform="translate(84.65,486.70) scale(0.850,1)" font-size="7.3" text-anchor="middle" fill="#1a1a1a" stroke="#1a1a1a" stroke-width="0.08">0.1</text>
<text transform="translate(12.00,531.30) rotate(-90)" font-size="8.0" text-anchor="middle" fill="#1a1a1a" stroke="#1a1a1a" stroke-width="0.06" textLength="93" lengthAdjust="spacingAndGlyphs">2^-DCt (Normalized on L34)</text>
<text transform="translate(183.60,461.80) scale(0.900,1)" font-size="8.0" text-anchor="middle" fill="#1a1a1a" stroke="#1a1a1a" stroke-width="0.05">C1qa</text>
<line x1="150.30" y1="475.90" x2="150.30" y2="587.40" stroke="#3a3a3a" stroke-width="0.85"/>
<line x1="149.95" y1="587.40" x2="217.60" y2="587.40" stroke="#333" stroke-width="0.7"/>
<line x1="146.90" y1="587.40" x2="150.30" y2="587.40" stroke="#333" stroke-width="0.6"/>
<text transform="translate(144.40,589.60) scale(0.900,1)" font-size="6.1" text-anchor="end" fill="#1a1a1a" stroke="#1a1a1a" stroke-width="0.08">0.00</text>
<line x1="146.90" y1="559.62" x2="150.30" y2="559.62" stroke="#333" stroke-width="0.6"/>
<text transform="translate(144.40,561.83) scale(0.900,1)" font-size="6.1" text-anchor="end" fill="#1a1a1a" stroke="#1a1a1a" stroke-width="0.08">0.05</text>
<line x1="146.90" y1="531.85" x2="150.30" y2="531.85" stroke="#333" stroke-width="0.6"/>
<text transform="translate(144.40,534.05) scale(0.900,1)" font-size="6.1" text-anchor="end" fill="#1a1a1a" stroke="#1a1a1a" stroke-width="0.08">0.10</text>
<line x1="146.90" y1="504.08" x2="150.30" y2="504.08" stroke="#333" stroke-width="0.6"/>
<text transform="translate(144.40,506.28) scale(0.900,1)" font-size="6.1" text-anchor="end" fill="#1a1a1a" stroke="#1a1a1a" stroke-width="0.08">0.15</text>
<line x1="146.90" y1="476.30" x2="150.30" y2="476.30" stroke="#333" stroke-width="0.6"/>
<text transform="translate(144.40,478.50) scale(0.900,1)" font-size="6.1" text-anchor="end" fill="#1a1a1a" stroke="#1a1a1a" stroke-width="0.08">0.20</text>
<line x1="163.80" y1="587.40" x2="163.80" y2="591.40" stroke="#333" stroke-width="0.7"/>
<text transform="translate(161.70,599.60) scale(0.900,1)" font-size="6.3" text-anchor="middle" fill="#1a1a1a" stroke="#1a1a1a" stroke-width="0.08">CTRL</text>
<line x1="184.00" y1="587.40" x2="184.00" y2="591.40" stroke="#333" stroke-width="0.7"/>
<text transform="translate(181.90,599.60) scale(0.900,1)" font-size="6.3" text-anchor="middle" fill="#1a1a1a" stroke="#1a1a1a" stroke-width="0.08">EAE-H</text>
<line x1="204.00" y1="587.40" x2="204.00" y2="591.40" stroke="#333" stroke-width="0.7"/>
<text transform="translate(204.00,599.60) scale(0.900,1)" font-size="6.3" text-anchor="middle" fill="#1a1a1a" stroke="#1a1a1a" stroke-width="0.08">EAE-L</text>
<rect x="157.15" y="560.20" width="13.3" height="27.20" fill="#fff" stroke="#333" stroke-width="0.7"/>
<rect x="177.35" y="520.10" width="13.3" height="67.30" fill="#fff" stroke="#333" stroke-width="0.7"/>
<rect x="197.35" y="544.10" width="13.3" height="43.30" fill="#fff" stroke="#333" stroke-width="0.7"/>
<line x1="163.80" y1="554.70" x2="163.80" y2="565.40" stroke="#333" stroke-width="0.7"/>
<line x1="160.60" y1="554.70" x2="167.00" y2="554.70" stroke="#333" stroke-width="0.7"/>
<line x1="160.60" y1="565.40" x2="167.00" y2="565.40" stroke="#333" stroke-width="0.7"/>
<line x1="184.00" y1="500.20" x2="184.00" y2="539.90" stroke="#333" stroke-width="0.7"/>
<line x1="180.80" y1="500.20" x2="187.20" y2="500.20" stroke="#333" stroke-width="0.7"/>
<line x1="180.80" y1="539.90" x2="187.20" y2="539.90" stroke="#333" stroke-width="0.7"/>
<line x1="204.00" y1="539.50" x2="204.00" y2="548.70" stroke="#333" stroke-width="0.7"/>
<line x1="200.80" y1="539.50" x2="207.20" y2="539.50" stroke="#333" stroke-width="0.7"/>
<line x1="200.80" y1="548.70" x2="207.20" y2="548.70" stroke="#333" stroke-width="0.7"/>
<circle cx="163.50" cy="554.70" r="1.75" fill="#111"/>
<circle cx="161.30" cy="565.70" r="1.75" fill="#111"/>
<circle cx="167.20" cy="563.50" r="1.75" fill="#111"/>
<circle cx="163.80" cy="560.00" r="1.75" fill="#111"/>
<circle cx="184.00" cy="499.60" r="1.75" fill="#e8262a"/>
<circle cx="184.00" cy="521.40" r="1.75" fill="#e8262a"/>
<circle cx="184.00" cy="539.90" r="1.75" fill="#e8262a"/>
<circle cx="200.80" cy="542.30" r="1.75" fill="#111"/>
<circle cx="206.90" cy="539.90" r="1.75" fill="#111"/>
<circle cx="206.90" cy="544.50" r="1.75" fill="#111"/>
<circle cx="203.70" cy="550.60" r="1.75" fill="#111"/>
<line x1="155.00" y1="477.50" x2="214.50" y2="477.50" stroke="#555" stroke-width="0.75"/>
<text transform="translate(183.40,476.00) scale(0.850,1)" font-size="7.3" text-anchor="middle" fill="#1a1a1a" stroke="#1a1a1a" stroke-width="0.08">0.02</text>
<line x1="155.00" y1="490.40" x2="181.80" y2="490.40" stroke="#555" stroke-width="0.75"/>
<text transform="translate(168.40,488.90) scale(0.850,1)" font-size="7.3" text-anchor="middle" fill="#1a1a1a" stroke="#1a1a1a" stroke-width="0.08">0.001</text>
<line x1="185.00" y1="488.20" x2="214.50" y2="488.20" stroke="#555" stroke-width="0.75"/>
<text transform="translate(199.75,486.70) scale(0.850,1)" font-size="7.3" text-anchor="middle" fill="#1a1a1a" stroke="#1a1a1a" stroke-width="0.08">0.06</text>
<text transform="translate(128.00,531.30) rotate(-90)" font-size="8.0" text-anchor="middle" fill="#1a1a1a" stroke="#1a1a1a" stroke-width="0.06" textLength="93" lengthAdjust="spacingAndGlyphs">2^-DCt (Normalized on L34)</text>
<text transform="translate(294.80,461.80) scale(0.900,1)" font-size="8.0" text-anchor="middle" fill="#1a1a1a" stroke="#1a1a1a" stroke-width="0.05">C1qb</text>
<line x1="262.40" y1="477.10" x2="262.40" y2="587.40" stroke="#3a3a3a" stroke-width="0.85"/>
<line x1="262.05" y1="587.40" x2="328.90" y2="587.40" stroke="#333" stroke-width="0.7"/>
<line x1="259.00" y1="587.40" x2="262.40" y2="587.40" stroke="#333" stroke-width="0.6"/>
<text transform="translate(256.50,589.60) scale(0.900,1)" font-size="6.1" text-anchor="end" fill="#1a1a1a" stroke="#1a1a1a" stroke-width="0.08">0.0</text>
<line x1="259.00" y1="550.77" x2="262.40" y2="550.77" stroke="#333" stroke-width="0.6"/>
<text transform="translate(256.50,552.97) scale(0.900,1)" font-size="6.1" text-anchor="end" fill="#1a1a1a" stroke="#1a1a1a" stroke-width="0.08">0.1</text>
<line x1="259.00" y1="514.13" x2="262.40" y2="514.13" stroke="#333" stroke-width="0.6"/>
<text transform="translate(256.50,516.33) scale(0.900,1)" font-size="6.1" text-anchor="end" fill="#1a1a1a" stroke="#1a1a1a" stroke-width="0.08">0.2</text>
<line x1="259.00" y1="477.50" x2="262.40" y2="477.50" stroke="#333" stroke-width="0.6"/>
<text transform="translate(256.50,479.70) scale(0.900,1)" font-size="6.1" text-anchor="end" fill="#1a1a1a" stroke="#1a1a1a" stroke-width="0.08">0.3</text>
<line x1="275.30" y1="587.40" x2="275.30" y2="591.40" stroke="#333" stroke-width="0.7"/>
<text transform="translate(273.20,599.60) scale(0.900,1)" font-size="6.3" text-anchor="middle" fill="#1a1a1a" stroke="#1a1a1a" stroke-width="0.08">CTRL</text>
<line x1="295.40" y1="587.40" x2="295.40" y2="591.40" stroke="#333" stroke-width="0.7"/>
<text transform="translate(293.30,599.60) scale(0.900,1)" font-size="6.3" text-anchor="middle" fill="#1a1a1a" stroke="#1a1a1a" stroke-width="0.08">EAE-H</text>
<line x1="315.30" y1="587.40" x2="315.30" y2="591.40" stroke="#333" stroke-width="0.7"/>
<text transform="translate(315.30,599.60) scale(0.900,1)" font-size="6.3" text-anchor="middle" fill="#1a1a1a" stroke="#1a1a1a" stroke-width="0.08">EAE-L</text>
<rect x="268.65" y="567.60" width="13.3" height="19.80" fill="#fff" stroke="#333" stroke-width="0.7"/>
<rect x="288.75" y="513.10" width="13.3" height="74.30" fill="#fff" stroke="#333" stroke-width="0.7"/>
<rect x="308.65" y="542.30" width="13.3" height="45.10" fill="#fff" stroke="#333" stroke-width="0.7"/>
<line x1="275.30" y1="565.40" x2="275.30" y2="569.10" stroke="#333" stroke-width="0.7"/>
<line x1="272.10" y1="565.40" x2="278.50" y2="565.40" stroke="#333" stroke-width="0.7"/>
<line x1="272.10" y1="569.10" x2="278.50" y2="569.10" stroke="#333" stroke-width="0.7"/>
<line x1="295.40" y1="497.80" x2="295.40" y2="529.20" stroke="#333" stroke-width="0.7"/>
<line x1="292.20" y1="497.80" x2="298.60" y2="497.80" stroke="#333" stroke-width="0.7"/>
<line x1="292.20" y1="529.20" x2="298.60" y2="529.20" stroke="#333" stroke-width="0.7"/>
<line x1="315.30" y1="535.30" x2="315.30" y2="548.70" stroke="#333" stroke-width="0.7"/>
<line x1="312.10" y1="535.30" x2="318.50" y2="535.30" stroke="#333" stroke-width="0.7"/>
<line x1="312.10" y1="548.70" x2="318.50" y2="548.70" stroke="#333" stroke-width="0.7"/>
<circle cx="272.60" cy="565.40" r="1.75" fill="#111"/>
<circle cx="278.10" cy="564.30" r="1.75" fill="#111"/>
<circle cx="272.60" cy="569.80" r="1.75" fill="#111"/>
<circle cx="278.10" cy="569.40" r="1.75" fill="#111"/>
<circle cx="295.40" cy="499.20" r="1.75" fill="#e8262a"/>
<circle cx="295.40" cy="509.80" r="1.75" fill="#e8262a"/>
<circle cx="295.40" cy="529.30" r="1.75" fill="#e8262a"/>
<circle cx="315.30" cy="532.50" r="1.75" fill="#111"/>
<circle cx="311.90" cy="543.00" r="1.75" fill="#111"/>
<circle cx="318.40" cy="544.50" r="1.75" fill="#111"/>
<circle cx="315.30" cy="548.70" r="1.75" fill="#111"/>
<line x1="267.30" y1="477.50" x2="328.10" y2="477.50" stroke="#555" stroke-width="0.75"/>
<text transform="translate(295.40,476.00) scale(0.850,1)" font-size="7.3" text-anchor="middle" fill="#1a1a1a" stroke="#1a1a1a" stroke-width="0.08">0.0002</text>
<line x1="267.30" y1="490.40" x2="296.00" y2="490.40" stroke="#555" stroke-width="0.75"/>
<text transform="translate(281.65,488.90) scale(0.850,1)" font-size="7.3" text-anchor="middle" fill="#1a1a1a" stroke="#1a1a1a" stroke-width="0.08">&lt;0.0001</text>
<line x1="298.70" y1="488.20" x2="328.10" y2="488.20" stroke="#555" stroke-width="0.75"/>
<text transform="translate(313.40,486.70) scale(0.850,1)" font-size="7.3" text-anchor="middle" fill="#1a1a1a" stroke="#1a1a1a" stroke-width="0.08">0.09</text>
<text transform="translate(243.40,531.30) rotate(-90)" font-size="8.0" text-anchor="middle" fill="#1a1a1a" stroke="#1a1a1a" stroke-width="0.06" textLength="93" lengthAdjust="spacingAndGlyphs">2^-DCt (Normalized on L34)</text>
<text transform="translate(413.40,461.80) scale(0.900,1)" font-size="8.0" text-anchor="middle" fill="#1a1a1a" stroke="#1a1a1a" stroke-width="0.05">Gfap</text>
<line x1="380.30" y1="476.20" x2="380.30" y2="587.40" stroke="#3a3a3a" stroke-width="0.85"/>
<line x1="379.95" y1="587.40" x2="448.00" y2="587.40" stroke="#333" stroke-width="0.7"/>
<line x1="376.90" y1="587.40" x2="380.30" y2="587.40" stroke="#333" stroke-width="0.6"/>
<text transform="translate(374.40,589.60) scale(0.900,1)" font-size="6.1" text-anchor="end" fill="#1a1a1a" stroke="#1a1a1a" stroke-width="0.08">0.0</text>
<line x1="376.90" y1="559.70" x2="380.30" y2="559.70" stroke="#333" stroke-width="0.6"/>
<text transform="translate(374.40,561.90) scale(0.900,1)" font-size="6.1" text-anchor="end" fill="#1a1a1a" stroke="#1a1a1a" stroke-width="0.08">0.1</text>
<line x1="376.90" y1="532.00" x2="380.30" y2="532.00" stroke="#333" stroke-width="0.6"/>
<text transform="translate(374.40,534.20) scale(0.900,1)" font-size="6.1" text-anchor="end" fill="#1a1a1a" stroke="#1a1a1a" stroke-width="0.08">0.2</text>
<line x1="376.90" y1="504.30" x2="380.30" y2="504.30" stroke="#333" stroke-width="0.6"/>
<text transform="translate(374.40,506.50) scale(0.900,1)" font-size="6.1" text-anchor="end" fill="#1a1a1a" stroke="#1a1a1a" stroke-width="0.08">0.3</text>
<line x1="376.90" y1="476.60" x2="380.30" y2="476.60" stroke="#333" stroke-width="0.6"/>
<text transform="translate(374.40,478.80) scale(0.900,1)" font-size="6.1" text-anchor="end" fill="#1a1a1a" stroke="#1a1a1a" stroke-width="0.08">0.4</text>
<line x1="394.10" y1="587.40" x2="394.10" y2="591.40" stroke="#333" stroke-width="0.7"/>
<text transform="translate(392.00,599.60) scale(0.900,1)" font-size="6.3" text-anchor="middle" fill="#1a1a1a" stroke="#1a1a1a" stroke-width="0.08">CTRL</text>
<line x1="414.20" y1="587.40" x2="414.20" y2="591.40" stroke="#333" stroke-width="0.7"/>
<text transform="translate(412.10,599.60) scale(0.900,1)" font-size="6.3" text-anchor="middle" fill="#1a1a1a" stroke="#1a1a1a" stroke-width="0.08">EAE-H</text>
<line x1="434.40" y1="587.40" x2="434.40" y2="591.40" stroke="#333" stroke-width="0.7"/>
<text transform="translate(434.40,599.60) scale(0.900,1)" font-size="6.3" text-anchor="middle" fill="#1a1a1a" stroke="#1a1a1a" stroke-width="0.08">EAE-L</text>
<rect x="387.45" y="568.00" width="13.3" height="19.40" fill="#fff" stroke="#333" stroke-width="0.7"/>
<rect x="407.55" y="528.20" width="13.3" height="59.20" fill="#fff" stroke="#333" stroke-width="0.7"/>
<rect x="427.75" y="554.70" width="13.3" height="32.70" fill="#fff" stroke="#333" stroke-width="0.7"/>
<line x1="394.10" y1="560.20" x2="394.10" y2="575.40" stroke="#333" stroke-width="0.7"/>
<line x1="390.90" y1="560.20" x2="397.30" y2="560.20" stroke="#333" stroke-width="0.7"/>
<line x1="390.90" y1="575.40" x2="397.30" y2="575.40" stroke="#333" stroke-width="0.7"/>
<line x1="414.20" y1="507.20" x2="414.20" y2="549.50" stroke="#333" stroke-width="0.7"/>
<line x1="411.00" y1="507.20" x2="417.40" y2="507.20" stroke="#333" stroke-width="0.7"/>
<line x1="411.00" y1="549.50" x2="417.40" y2="549.50" stroke="#333" stroke-width="0.7"/>
<line x1="434.40" y1="545.40" x2="434.40" y2="563.50" stroke="#333" stroke-width="0.7"/>
<line x1="431.20" y1="545.40" x2="437.60" y2="545.40" stroke="#333" stroke-width="0.7"/>
<line x1="431.20" y1="563.50" x2="437.60" y2="563.50" stroke="#333" stroke-width="0.7"/>
<circle cx="391.30" cy="562.00" r="1.75" fill="#111"/>
<circle cx="397.20" cy="561.70" r="1.75" fill="#111"/>
<circle cx="394.10" cy="567.60" r="1.75" fill="#111"/>
<circle cx="394.10" cy="579.00" r="1.75" fill="#111"/>
<circle cx="414.20" cy="503.90" r="1.75" fill="#e8262a"/>
<circle cx="411.40" cy="541.40" r="1.75" fill="#e8262a"/>
<circle cx="417.50" cy="539.50" r="1.75" fill="#e8262a"/>
<circle cx="431.30" cy="548.70" r="1.75" fill="#111"/>
<circle cx="437.40" cy="547.30" r="1.75" fill="#111"/>
<circle cx="434.50" cy="556.00" r="1.75" fill="#111"/>
<circle cx="434.50" cy="567.20" r="1.75" fill="#111"/>
<line x1="384.80" y1="477.00" x2="444.60" y2="477.00" stroke="#555" stroke-width="0.75"/>
<text transform="translate(412.30,475.50) scale(0.850,1)" font-size="7.3" text-anchor="middle" fill="#1a1a1a" stroke="#1a1a1a" stroke-width="0.08">0.18</text>
<line x1="384.80" y1="490.40" x2="411.90" y2="490.40" stroke="#555" stroke-width="0.75"/>
<text transform="translate(398.35,488.90) scale(0.850,1)" font-size="7.3" text-anchor="middle" fill="#1a1a1a" stroke="#1a1a1a" stroke-width="0.08">0.01</text>
<line x1="415.30" y1="488.40" x2="444.60" y2="488.40" stroke="#555" stroke-width="0.75"/>
<text transform="translate(429.95,486.90) scale(0.850,1)" font-size="7.3" text-anchor="middle" fill="#1a1a1a" stroke="#1a1a1a" stroke-width="0.08">0.19</text>
<text transform="translate(363.00,531.30) rotate(-90)" font-size="8.0" text-anchor="middle" fill="#1a1a1a" stroke="#1a1a1a" stroke-width="0.06" textLength="93" lengthAdjust="spacingAndGlyphs">2^-DCt (Normalized on L34)</text>
<text transform="translate(530.50,461.80) scale(0.900,1)" font-size="8.0" text-anchor="middle" fill="#1a1a1a" stroke="#1a1a1a" stroke-width="0.05">Aass</text>
<line x1="497.50" y1="475.90" x2="497.50" y2="587.80" stroke="#3a3a3a" stroke-width="0.85"/>
<line x1="497.15" y1="587.80" x2="564.60" y2="587.80" stroke="#333" stroke-width="0.7"/>
<line x1="494.10" y1="587.80" x2="497.50" y2="587.80" stroke="#333" stroke-width="0.6"/>
<text transform="translate(491.60,590.00) scale(0.900,1)" font-size="6.1" text-anchor="end" fill="#1a1a1a" stroke="#1a1a1a" stroke-width="0.08">0.000</text>
<line x1="494.10" y1="559.92" x2="497.50" y2="559.92" stroke="#333" stroke-width="0.6"/>
<text transform="translate(491.60,562.12) scale(0.900,1)" font-size="6.1" text-anchor="end" fill="#1a1a1a" stroke="#1a1a1a" stroke-width="0.08">0.005</text>
<line x1="494.10" y1="532.05" x2="497.50" y2="532.05" stroke="#333" stroke-width="0.6"/>
<text transform="translate(491.60,534.25) scale(0.900,1)" font-size="6.1" text-anchor="end" fill="#1a1a1a" stroke="#1a1a1a" stroke-width="0.08">0.010</text>
<line x1="494.10" y1="504.18" x2="497.50" y2="504.18" stroke="#333" stroke-width="0.6"/>
<text transform="translate(491.60,506.38) scale(0.900,1)" font-size="6.1" text-anchor="end" fill="#1a1a1a" stroke="#1a1a1a" stroke-width="0.08">0.015</text>
<line x1="494.10" y1="476.30" x2="497.50" y2="476.30" stroke="#333" stroke-width="0.6"/>
<text transform="translate(491.60,478.50) scale(0.900,1)" font-size="6.1" text-anchor="end" fill="#1a1a1a" stroke="#1a1a1a" stroke-width="0.08">0.020</text>
<line x1="511.10" y1="587.80" x2="511.10" y2="591.80" stroke="#333" stroke-width="0.7"/>
<text transform="translate(509.00,599.60) scale(0.900,1)" font-size="6.3" text-anchor="middle" fill="#1a1a1a" stroke="#1a1a1a" stroke-width="0.08">CTRL</text>
<line x1="531.00" y1="587.80" x2="531.00" y2="591.80" stroke="#333" stroke-width="0.7"/>
<text transform="translate(528.90,599.60) scale(0.900,1)" font-size="6.3" text-anchor="middle" fill="#1a1a1a" stroke="#1a1a1a" stroke-width="0.08">EAE-H</text>
<line x1="551.00" y1="587.80" x2="551.00" y2="591.80" stroke="#333" stroke-width="0.7"/>
<text transform="translate(551.00,599.60) scale(0.900,1)" font-size="6.3" text-anchor="middle" fill="#1a1a1a" stroke="#1a1a1a" stroke-width="0.08">EAE-L</text>
<rect x="504.45" y="527.00" width="13.3" height="60.80" fill="#fff" stroke="#333" stroke-width="0.7"/>
<rect x="524.35" y="511.20" width="13.3" height="76.60" fill="#fff" stroke="#333" stroke-width="0.7"/>
<rect x="544.35" y="526.00" width="13.3" height="61.80" fill="#fff" stroke="#333" stroke-width="0.7"/>
<line x1="511.10" y1="520.50" x2="511.10" y2="533.40" stroke="#333" stroke-width="0.7"/>
<line x1="507.90" y1="520.50" x2="514.30" y2="520.50" stroke="#333" stroke-width="0.7"/>
<line x1="507.90" y1="533.40" x2="514.30" y2="533.40" stroke="#333" stroke-width="0.7"/>
<line x1="531.00" y1="501.10" x2="531.00" y2="520.50" stroke="#333" stroke-width="0.7"/>
<line x1="527.80" y1="501.10" x2="534.20" y2="501.10" stroke="#333" stroke-width="0.7"/>
<line x1="527.80" y1="520.50" x2="534.20" y2="520.50" stroke="#333" stroke-width="0.7"/>
<line x1="551.00" y1="521.00" x2="551.00" y2="526.00" stroke="#333" stroke-width="0.7"/>
<line x1="547.80" y1="521.00" x2="554.20" y2="521.00" stroke="#333" stroke-width="0.7"/>
<line x1="547.80" y1="526.00" x2="554.20" y2="526.00" stroke="#333" stroke-width="0.7"/>
<circle cx="511.00" cy="518.30" r="1.75" fill="#111"/>
<circle cx="508.30" cy="525.50" r="1.75" fill="#111"/>
<circle cx="514.20" cy="529.30" r="1.75" fill="#111"/>
<circle cx="508.60" cy="533.40" r="1.75" fill="#111"/>
<circle cx="531.00" cy="500.70" r="1.75" fill="#e8262a"/>
<circle cx="531.00" cy="512.50" r="1.75" fill="#e8262a"/>
<circle cx="531.00" cy="519.90" r="1.75" fill="#e8262a"/>
<circle cx="545.90" cy="520.10" r="1.75" fill="#111"/>
<circle cx="550.70" cy="522.90" r="1.75" fill="#111"/>
<circle cx="556.10" cy="523.80" r="1.75" fill="#111"/>
<circle cx="545.60" cy="527.00" r="1.75" fill="#111"/>
<line x1="500.90" y1="477.50" x2="561.20" y2="477.50" stroke="#555" stroke-width="0.75"/>
<text transform="translate(530.00,476.00) scale(0.850,1)" font-size="7.3" text-anchor="middle" fill="#1a1a1a" stroke="#1a1a1a" stroke-width="0.08">0.67</text>
<line x1="500.90" y1="490.40" x2="529.60" y2="490.40" stroke="#555" stroke-width="0.75"/>
<text transform="translate(515.25,488.90) scale(0.850,1)" font-size="7.3" text-anchor="middle" fill="#1a1a1a" stroke="#1a1a1a" stroke-width="0.08">0.02</text>
<line x1="531.70" y1="488.20" x2="561.20" y2="488.20" stroke="#555" stroke-width="0.75"/>
<text transform="translate(546.45,486.70) scale(0.850,1)" font-size="7.3" text-anchor="middle" fill="#1a1a1a" stroke="#1a1a1a" stroke-width="0.08">0.08</text>
<text transform="translate(474.00,531.30) rotate(-90)" font-size="8.0" text-anchor="middle" fill="#1a1a1a" stroke="#1a1a1a" stroke-width="0.06" textLength="93" lengthAdjust="spacingAndGlyphs">2^-DCt (Normalized on L34)</text>
<text transform="translate(644.70,461.80) scale(0.900,1)" font-size="8.0" text-anchor="middle" fill="#1a1a1a" stroke="#1a1a1a" stroke-width="0.05">Cyp4f15</text>
<line x1="612.50" y1="476.60" x2="612.50" y2="587.80" stroke="#3a3a3a" stroke-width="0.85"/>
<line x1="612.15" y1="587.80" x2="678.60" y2="587.80" stroke="#333" stroke-width="0.7"/>
<line x1="609.10" y1="587.80" x2="612.50" y2="587.80" stroke="#333" stroke-width="0.6"/>
<text transform="translate(606.60,590.00) scale(0.900,1)" font-size="6.1" text-anchor="end" fill="#1a1a1a" stroke="#1a1a1a" stroke-width="0.08">0.00</text>
<line x1="609.10" y1="560.10" x2="612.50" y2="560.10" stroke="#333" stroke-width="0.6"/>
<text transform="translate(606.60,562.30) scale(0.900,1)" font-size="6.1" text-anchor="end" fill="#1a1a1a" stroke="#1a1a1a" stroke-width="0.08">0.02</text>
<line x1="609.10" y1="532.40" x2="612.50" y2="532.40" stroke="#333" stroke-width="0.6"/>
<text transform="translate(606.60,534.60) scale(0.900,1)" font-size="6.1" text-anchor="end" fill="#1a1a1a" stroke="#1a1a1a" stroke-width="0.08">0.04</text>
<line x1="609.10" y1="504.70" x2="612.50" y2="504.70" stroke="#333" stroke-width="0.6"/>
<text transform="translate(606.60,506.90) scale(0.900,1)" font-size="6.1" text-anchor="end" fill="#1a1a1a" stroke="#1a1a1a" stroke-width="0.08">0.06</text>
<line x1="609.10" y1="477.00" x2="612.50" y2="477.00" stroke="#333" stroke-width="0.6"/>
<text transform="translate(606.60,479.20) scale(0.900,1)" font-size="6.1" text-anchor="end" fill="#1a1a1a" stroke="#1a1a1a" stroke-width="0.08">0.08</text>
<line x1="625.20" y1="587.80" x2="625.20" y2="591.80" stroke="#333" stroke-width="0.7"/>
<text transform="translate(623.10,599.60) scale(0.900,1)" font-size="6.3" text-anchor="middle" fill="#1a1a1a" stroke="#1a1a1a" stroke-width="0.08">CTRL</text>
<line x1="645.10" y1="587.80" x2="645.10" y2="591.80" stroke="#333" stroke-width="0.7"/>
<text transform="translate(643.00,599.60) scale(0.900,1)" font-size="6.3" text-anchor="middle" fill="#1a1a1a" stroke="#1a1a1a" stroke-width="0.08">EAE-H</text>
<line x1="665.00" y1="587.80" x2="665.00" y2="591.80" stroke="#333" stroke-width="0.7"/>
<text transform="translate(665.00,599.60) scale(0.900,1)" font-size="6.3" text-anchor="middle" fill="#1a1a1a" stroke="#1a1a1a" stroke-width="0.08">EAE-L</text>
<rect x="618.55" y="554.30" width="13.3" height="33.50" fill="#fff" stroke="#333" stroke-width="0.7"/>
<rect x="638.45" y="529.70" width="13.3" height="58.10" fill="#fff" stroke="#333" stroke-width="0.7"/>
<rect x="658.35" y="547.30" width="13.3" height="40.50" fill="#fff" stroke="#333" stroke-width="0.7"/>
<line x1="625.20" y1="548.70" x2="625.20" y2="559.80" stroke="#333" stroke-width="0.7"/>
<line x1="622.00" y1="548.70" x2="628.40" y2="548.70" stroke="#333" stroke-width="0.7"/>
<line x1="622.00" y1="559.80" x2="628.40" y2="559.80" stroke="#333" stroke-width="0.7"/>
<line x1="645.10" y1="509.40" x2="645.10" y2="549.50" stroke="#333" stroke-width="0.7"/>
<line x1="641.90" y1="509.40" x2="648.30" y2="509.40" stroke="#333" stroke-width="0.7"/>
<line x1="641.90" y1="549.50" x2="648.30" y2="549.50" stroke="#333" stroke-width="0.7"/>
<line x1="665.00" y1="542.70" x2="665.00" y2="551.00" stroke="#333" stroke-width="0.7"/>
<line x1="661.80" y1="542.70" x2="668.20" y2="542.70" stroke="#333" stroke-width="0.7"/>
<line x1="661.80" y1="551.00" x2="668.20" y2="551.00" stroke="#333" stroke-width="0.7"/>
<circle cx="625.50" cy="546.30" r="1.75" fill="#111"/>
<circle cx="622.30" cy="554.30" r="1.75" fill="#111"/>
<circle cx="628.80" cy="555.60" r="1.75" fill="#111"/>
<circle cx="625.50" cy="560.20" r="1.75" fill="#111"/>
<circle cx="645.10" cy="508.80" r="1.75" fill="#e8262a"/>
<circle cx="645.10" cy="532.10" r="1.75" fill="#e8262a"/>
<circle cx="645.10" cy="548.70" r="1.75" fill="#e8262a"/>
<circle cx="662.10" cy="545.40" r="1.75" fill="#111"/>
<circle cx="668.30" cy="542.70" r="1.75" fill="#111"/>
<circle cx="668.30" cy="547.30" r="1.75" fill="#111"/>
<circle cx="665.20" cy="553.20" r="1.75" fill="#111"/>
<line x1="614.60" y1="477.50" x2="675.40" y2="477.50" stroke="#555" stroke-width="0.75"/>
<text transform="translate(643.80,476.00) scale(0.850,1)" font-size="7.3" text-anchor="middle" fill="#1a1a1a" stroke="#1a1a1a" stroke-width="0.08">0.42</text>
<line x1="614.60" y1="490.40" x2="643.20" y2="490.40" stroke="#555" stroke-width="0.75"/>
<text transform="translate(628.90,488.90) scale(0.850,1)" font-size="7.3" text-anchor="middle" fill="#1a1a1a" stroke="#1a1a1a" stroke-width="0.08">0.03</text>
<line x1="645.90" y1="488.20" x2="675.40" y2="488.20" stroke="#555" stroke-width="0.75"/>
<text transform="translate(660.65,486.70) scale(0.850,1)" font-size="7.3" text-anchor="middle" fill="#1a1a1a" stroke="#1a1a1a" stroke-width="0.08">0.18</text>
<text transform="translate(590.00,531.30) rotate(-90)" font-size="8.0" text-anchor="middle" fill="#1a1a1a" stroke="#1a1a1a" stroke-width="0.06" textLength="93" lengthAdjust="spacingAndGlyphs">2^-DCt (Normalized on L34)</text>
</svg>
</body></html>
